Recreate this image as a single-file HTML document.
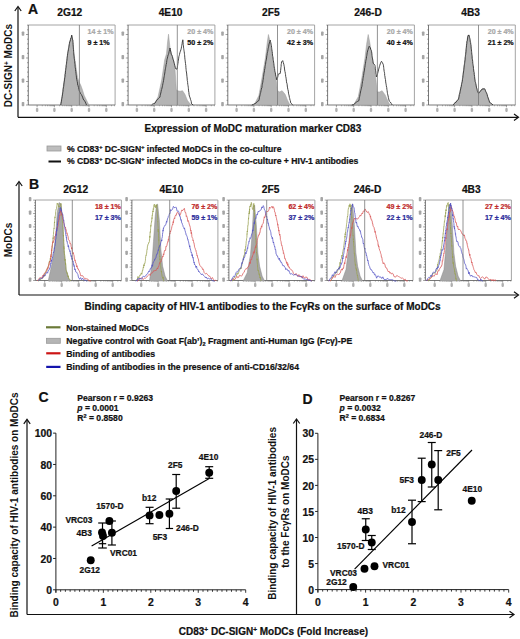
<!DOCTYPE html><html><head><meta charset="utf-8"><style>html,body{margin:0;padding:0;background:#fff;overflow:hidden;}svg{display:block;}text{font-family:"Liberation Sans",sans-serif;}</style></head><body>
<svg width="520" height="639" viewBox="0 0 520 639">
<rect width="520" height="639" fill="#fff"/>
<text x="28" y="14.3" font-size="14" font-weight="bold" text-anchor="start" fill="#111" stroke="#111" stroke-width="0.22" >A</text>
<text x="69.8" y="16.0" font-size="10.2" font-weight="bold" text-anchor="middle" fill="#111" stroke="#111" stroke-width="0.22" >2G12</text>
<text x="170.6" y="16.0" font-size="10.2" font-weight="bold" text-anchor="middle" fill="#111" stroke="#111" stroke-width="0.22" >4E10</text>
<text x="270.8" y="16.0" font-size="10.2" font-weight="bold" text-anchor="middle" fill="#111" stroke="#111" stroke-width="0.22" >2F5</text>
<text x="368" y="16.0" font-size="10.2" font-weight="bold" text-anchor="middle" fill="#111" stroke="#111" stroke-width="0.22" >246-D</text>
<text x="470.6" y="16.0" font-size="10.2" font-weight="bold" text-anchor="middle" fill="#111" stroke="#111" stroke-width="0.22" >4B3</text>
<line x1="18" y1="117.3" x2="18" y2="7.0" stroke="#111" stroke-width="1.2"/>
<polyline points="14.8,11.0 18,6.5 21.2,11.0" fill="none" stroke="#111" stroke-width="1.2"/>
<line x1="18" y1="117.3" x2="518.0" y2="117.3" stroke="#111" stroke-width="1.2"/>
<polyline points="514.0,114.1 518.5,117.3 514.0,120.5" fill="none" stroke="#111" stroke-width="1.2"/>
<text transform="translate(12,65.6) rotate(-90)" x="0" y="0" font-size="10" font-weight="bold" text-anchor="middle" fill="#111">DC-SIGN<tspan font-size="6.5" dy="-3">+</tspan><tspan dy="3"> MoDCs</tspan></text>
<text x="144.5" y="132" font-size="10" font-weight="bold" text-anchor="start" fill="#111" stroke="#111" stroke-width="0.22" >Expression of MoDC maturation marker CD83</text>
<rect x="28.3" y="25" width="86.8" height="80" fill="#fff" stroke="none"/>
<polyline points="28.3,25 115.1,25 115.1,105" fill="none" stroke="#9a9a9a" stroke-width="0.9"/>
<line x1="26.0" y1="105.0" x2="28.3" y2="105.0" stroke="#666" stroke-width="0.6"/>
<rect x="21.7" y="102.0" width="2.6" height="4.2" rx="0.8" fill="#a5a5a5"/>
<line x1="27.0" y1="100.3" x2="28.3" y2="100.3" stroke="#666" stroke-width="0.6"/>
<line x1="27.0" y1="95.6" x2="28.3" y2="95.6" stroke="#666" stroke-width="0.6"/>
<line x1="27.0" y1="90.9" x2="28.3" y2="90.9" stroke="#666" stroke-width="0.6"/>
<line x1="27.0" y1="86.2" x2="28.3" y2="86.2" stroke="#666" stroke-width="0.6"/>
<line x1="26.0" y1="81.5" x2="28.3" y2="81.5" stroke="#666" stroke-width="0.6"/>
<rect x="21.7" y="78.5" width="2.6" height="4.2" rx="0.8" fill="#a5a5a5"/>
<line x1="27.0" y1="76.8" x2="28.3" y2="76.8" stroke="#666" stroke-width="0.6"/>
<line x1="27.0" y1="72.1" x2="28.3" y2="72.1" stroke="#666" stroke-width="0.6"/>
<line x1="27.0" y1="67.4" x2="28.3" y2="67.4" stroke="#666" stroke-width="0.6"/>
<line x1="27.0" y1="62.7" x2="28.3" y2="62.7" stroke="#666" stroke-width="0.6"/>
<line x1="26.0" y1="58.0" x2="28.3" y2="58.0" stroke="#666" stroke-width="0.6"/>
<rect x="21.7" y="55.0" width="2.6" height="4.2" rx="0.8" fill="#a5a5a5"/>
<line x1="27.0" y1="53.3" x2="28.3" y2="53.3" stroke="#666" stroke-width="0.6"/>
<line x1="27.0" y1="48.6" x2="28.3" y2="48.6" stroke="#666" stroke-width="0.6"/>
<line x1="27.0" y1="43.9" x2="28.3" y2="43.9" stroke="#666" stroke-width="0.6"/>
<line x1="27.0" y1="39.2" x2="28.3" y2="39.2" stroke="#666" stroke-width="0.6"/>
<line x1="26.0" y1="34.5" x2="28.3" y2="34.5" stroke="#666" stroke-width="0.6"/>
<rect x="21.7" y="31.5" width="2.6" height="4.2" rx="0.8" fill="#a5a5a5"/>
<line x1="27.0" y1="29.8" x2="28.3" y2="29.8" stroke="#666" stroke-width="0.6"/>
<line x1="27.0" y1="25.1" x2="28.3" y2="25.1" stroke="#666" stroke-width="0.6"/>
<line x1="37.1" y1="105" x2="37.1" y2="107.3" stroke="#666" stroke-width="0.6"/>
<line x1="42.3" y1="105" x2="42.3" y2="106.3" stroke="#777" stroke-width="0.5"/>
<line x1="45.4" y1="105" x2="45.4" y2="106.3" stroke="#777" stroke-width="0.5"/>
<line x1="47.5" y1="105" x2="47.5" y2="106.3" stroke="#777" stroke-width="0.5"/>
<line x1="49.2" y1="105" x2="49.2" y2="106.3" stroke="#777" stroke-width="0.5"/>
<line x1="50.6" y1="105" x2="50.6" y2="106.3" stroke="#777" stroke-width="0.5"/>
<line x1="51.7" y1="105" x2="51.7" y2="106.3" stroke="#777" stroke-width="0.5"/>
<line x1="52.7" y1="105" x2="52.7" y2="106.3" stroke="#777" stroke-width="0.5"/>
<line x1="53.6" y1="105" x2="53.6" y2="106.3" stroke="#777" stroke-width="0.5"/>
<rect x="35.9" y="108.1" width="2.4" height="3.8" rx="0.8" fill="#b0b0b0"/>
<line x1="54.4" y1="105" x2="54.4" y2="107.3" stroke="#666" stroke-width="0.6"/>
<line x1="59.6" y1="105" x2="59.6" y2="106.3" stroke="#777" stroke-width="0.5"/>
<line x1="62.7" y1="105" x2="62.7" y2="106.3" stroke="#777" stroke-width="0.5"/>
<line x1="64.8" y1="105" x2="64.8" y2="106.3" stroke="#777" stroke-width="0.5"/>
<line x1="66.5" y1="105" x2="66.5" y2="106.3" stroke="#777" stroke-width="0.5"/>
<line x1="67.9" y1="105" x2="67.9" y2="106.3" stroke="#777" stroke-width="0.5"/>
<line x1="69.0" y1="105" x2="69.0" y2="106.3" stroke="#777" stroke-width="0.5"/>
<line x1="70.0" y1="105" x2="70.0" y2="106.3" stroke="#777" stroke-width="0.5"/>
<line x1="70.9" y1="105" x2="70.9" y2="106.3" stroke="#777" stroke-width="0.5"/>
<rect x="53.2" y="108.1" width="2.4" height="3.8" rx="0.8" fill="#b0b0b0"/>
<line x1="71.7" y1="105" x2="71.7" y2="107.3" stroke="#666" stroke-width="0.6"/>
<line x1="76.9" y1="105" x2="76.9" y2="106.3" stroke="#777" stroke-width="0.5"/>
<line x1="80.0" y1="105" x2="80.0" y2="106.3" stroke="#777" stroke-width="0.5"/>
<line x1="82.1" y1="105" x2="82.1" y2="106.3" stroke="#777" stroke-width="0.5"/>
<line x1="83.8" y1="105" x2="83.8" y2="106.3" stroke="#777" stroke-width="0.5"/>
<line x1="85.2" y1="105" x2="85.2" y2="106.3" stroke="#777" stroke-width="0.5"/>
<line x1="86.3" y1="105" x2="86.3" y2="106.3" stroke="#777" stroke-width="0.5"/>
<line x1="87.3" y1="105" x2="87.3" y2="106.3" stroke="#777" stroke-width="0.5"/>
<line x1="88.2" y1="105" x2="88.2" y2="106.3" stroke="#777" stroke-width="0.5"/>
<rect x="70.5" y="108.1" width="2.4" height="3.8" rx="0.8" fill="#b0b0b0"/>
<line x1="89.0" y1="105" x2="89.0" y2="107.3" stroke="#666" stroke-width="0.6"/>
<line x1="94.2" y1="105" x2="94.2" y2="106.3" stroke="#777" stroke-width="0.5"/>
<line x1="97.3" y1="105" x2="97.3" y2="106.3" stroke="#777" stroke-width="0.5"/>
<line x1="99.4" y1="105" x2="99.4" y2="106.3" stroke="#777" stroke-width="0.5"/>
<line x1="101.1" y1="105" x2="101.1" y2="106.3" stroke="#777" stroke-width="0.5"/>
<line x1="102.5" y1="105" x2="102.5" y2="106.3" stroke="#777" stroke-width="0.5"/>
<line x1="103.6" y1="105" x2="103.6" y2="106.3" stroke="#777" stroke-width="0.5"/>
<line x1="104.6" y1="105" x2="104.6" y2="106.3" stroke="#777" stroke-width="0.5"/>
<line x1="105.5" y1="105" x2="105.5" y2="106.3" stroke="#777" stroke-width="0.5"/>
<rect x="87.8" y="108.1" width="2.4" height="3.8" rx="0.8" fill="#b0b0b0"/>
<line x1="106.3" y1="105" x2="106.3" y2="107.3" stroke="#666" stroke-width="0.6"/>
<line x1="111.5" y1="105" x2="111.5" y2="106.3" stroke="#777" stroke-width="0.5"/>
<line x1="114.6" y1="105" x2="114.6" y2="106.3" stroke="#777" stroke-width="0.5"/>
<rect x="105.1" y="108.1" width="2.4" height="3.8" rx="0.8" fill="#b0b0b0"/>
<polyline points="28.3,25 28.3,105 115.1,105" fill="none" stroke="#555" stroke-width="0.8"/>
<polygon points="60.4,105.0 62.1,95.5 64.5,77.6 67.5,53.8 69.5,42.0 71.7,35.4 72.8,40.0 74.0,53.8 77.6,77.6 79.0,82.0 80.6,84.8 82.5,90.0 84.2,95.5 88.9,105.0" fill="#b4b4b4" stroke="#9a9a9a" stroke-width="0.5"/>
<polyline points="60.8,105.0 61.0,103.4 61.3,101.9 61.5,101.1 61.7,99.1 61.9,98.3 62.2,96.7 62.4,95.0 62.6,94.1 62.8,92.2 63.0,91.3 63.1,89.5 63.3,88.1 63.5,87.1 63.7,86.3 63.9,84.0 64.1,82.8 64.2,81.9 64.4,80.9 64.6,79.1 64.8,77.5 65.0,76.8 65.1,74.4 65.3,74.1 65.4,72.1 65.6,70.6 65.8,69.2 65.9,68.1 66.1,67.4 66.2,65.3 66.4,64.5 66.6,63.2 66.7,61.6 66.9,60.5 67.1,58.6 67.2,57.2 67.4,56.1 67.5,55.3 67.7,53.7 67.9,52.3 68.1,51.3 68.4,49.8 68.6,48.3 68.8,47.6 69.0,46.2 69.3,44.3 69.5,43.4 69.7,42.0 70.1,41.2 70.5,39.7 70.9,37.9 71.3,37.5 71.7,35.1 72.1,37.1 72.4,39.2 72.8,40.1 72.9,41.8 73.0,42.6 73.1,44.7 73.2,46.1 73.3,47.2 73.4,48.9 73.5,49.6 73.6,51.4 73.7,52.6 73.8,53.9 73.9,55.1 74.1,56.9 74.2,58.3 74.4,59.1 74.5,60.6 74.7,61.2 74.8,63.3 75.0,64.6 75.1,66.3 75.2,67.4 75.4,68.1 75.5,69.5 75.7,71.2 75.8,71.7 76.0,73.6 76.1,74.6 76.3,75.8 76.4,77.1 76.7,79.3 76.9,80.0 77.2,81.5 77.5,83.1 77.7,85.0 78.0,85.5 78.5,87.5 78.9,89.2 79.4,91.2 80.1,92.4 80.7,93.8 81.3,94.4 82.0,95.9 82.6,97.1 83.2,99.0 83.9,100.3 84.5,100.6 85.2,101.9 85.8,103.3 86.5,105.0" fill="none" stroke="#333" stroke-width="0.9"/>
<line x1="79.4" y1="25" x2="79.4" y2="105" stroke="#777" stroke-width="0.8"/>
<text x="87.5" y="34.2" font-size="7.1" font-weight="bold" text-anchor="start" fill="#a8a8a8" stroke="#a8a8a8" stroke-width="0.22" >14 ± 1%</text>
<text x="87.5" y="45.4" font-size="7.1" font-weight="bold" text-anchor="start" fill="#111" stroke="#111" stroke-width="0.22" >9 ± 1%</text>
<rect x="128.1" y="25" width="86.79999999999998" height="80" fill="#fff" stroke="none"/>
<polyline points="128.1,25 214.89999999999998,25 214.89999999999998,105" fill="none" stroke="#9a9a9a" stroke-width="0.9"/>
<line x1="125.8" y1="105.0" x2="128.1" y2="105.0" stroke="#666" stroke-width="0.6"/>
<rect x="121.5" y="102.0" width="2.6" height="4.2" rx="0.8" fill="#a5a5a5"/>
<line x1="126.8" y1="100.3" x2="128.1" y2="100.3" stroke="#666" stroke-width="0.6"/>
<line x1="126.8" y1="95.6" x2="128.1" y2="95.6" stroke="#666" stroke-width="0.6"/>
<line x1="126.8" y1="90.9" x2="128.1" y2="90.9" stroke="#666" stroke-width="0.6"/>
<line x1="126.8" y1="86.2" x2="128.1" y2="86.2" stroke="#666" stroke-width="0.6"/>
<line x1="125.8" y1="81.5" x2="128.1" y2="81.5" stroke="#666" stroke-width="0.6"/>
<rect x="121.5" y="78.5" width="2.6" height="4.2" rx="0.8" fill="#a5a5a5"/>
<line x1="126.8" y1="76.8" x2="128.1" y2="76.8" stroke="#666" stroke-width="0.6"/>
<line x1="126.8" y1="72.1" x2="128.1" y2="72.1" stroke="#666" stroke-width="0.6"/>
<line x1="126.8" y1="67.4" x2="128.1" y2="67.4" stroke="#666" stroke-width="0.6"/>
<line x1="126.8" y1="62.7" x2="128.1" y2="62.7" stroke="#666" stroke-width="0.6"/>
<line x1="125.8" y1="58.0" x2="128.1" y2="58.0" stroke="#666" stroke-width="0.6"/>
<rect x="121.5" y="55.0" width="2.6" height="4.2" rx="0.8" fill="#a5a5a5"/>
<line x1="126.8" y1="53.3" x2="128.1" y2="53.3" stroke="#666" stroke-width="0.6"/>
<line x1="126.8" y1="48.6" x2="128.1" y2="48.6" stroke="#666" stroke-width="0.6"/>
<line x1="126.8" y1="43.9" x2="128.1" y2="43.9" stroke="#666" stroke-width="0.6"/>
<line x1="126.8" y1="39.2" x2="128.1" y2="39.2" stroke="#666" stroke-width="0.6"/>
<line x1="125.8" y1="34.5" x2="128.1" y2="34.5" stroke="#666" stroke-width="0.6"/>
<rect x="121.5" y="31.5" width="2.6" height="4.2" rx="0.8" fill="#a5a5a5"/>
<line x1="126.8" y1="29.8" x2="128.1" y2="29.8" stroke="#666" stroke-width="0.6"/>
<line x1="126.8" y1="25.1" x2="128.1" y2="25.1" stroke="#666" stroke-width="0.6"/>
<line x1="136.9" y1="105" x2="136.9" y2="107.3" stroke="#666" stroke-width="0.6"/>
<line x1="142.1" y1="105" x2="142.1" y2="106.3" stroke="#777" stroke-width="0.5"/>
<line x1="145.2" y1="105" x2="145.2" y2="106.3" stroke="#777" stroke-width="0.5"/>
<line x1="147.3" y1="105" x2="147.3" y2="106.3" stroke="#777" stroke-width="0.5"/>
<line x1="149.0" y1="105" x2="149.0" y2="106.3" stroke="#777" stroke-width="0.5"/>
<line x1="150.4" y1="105" x2="150.4" y2="106.3" stroke="#777" stroke-width="0.5"/>
<line x1="151.5" y1="105" x2="151.5" y2="106.3" stroke="#777" stroke-width="0.5"/>
<line x1="152.5" y1="105" x2="152.5" y2="106.3" stroke="#777" stroke-width="0.5"/>
<line x1="153.4" y1="105" x2="153.4" y2="106.3" stroke="#777" stroke-width="0.5"/>
<rect x="135.7" y="108.1" width="2.4" height="3.8" rx="0.8" fill="#b0b0b0"/>
<line x1="154.2" y1="105" x2="154.2" y2="107.3" stroke="#666" stroke-width="0.6"/>
<line x1="159.4" y1="105" x2="159.4" y2="106.3" stroke="#777" stroke-width="0.5"/>
<line x1="162.5" y1="105" x2="162.5" y2="106.3" stroke="#777" stroke-width="0.5"/>
<line x1="164.6" y1="105" x2="164.6" y2="106.3" stroke="#777" stroke-width="0.5"/>
<line x1="166.3" y1="105" x2="166.3" y2="106.3" stroke="#777" stroke-width="0.5"/>
<line x1="167.7" y1="105" x2="167.7" y2="106.3" stroke="#777" stroke-width="0.5"/>
<line x1="168.8" y1="105" x2="168.8" y2="106.3" stroke="#777" stroke-width="0.5"/>
<line x1="169.8" y1="105" x2="169.8" y2="106.3" stroke="#777" stroke-width="0.5"/>
<line x1="170.7" y1="105" x2="170.7" y2="106.3" stroke="#777" stroke-width="0.5"/>
<rect x="153.0" y="108.1" width="2.4" height="3.8" rx="0.8" fill="#b0b0b0"/>
<line x1="171.5" y1="105" x2="171.5" y2="107.3" stroke="#666" stroke-width="0.6"/>
<line x1="176.7" y1="105" x2="176.7" y2="106.3" stroke="#777" stroke-width="0.5"/>
<line x1="179.8" y1="105" x2="179.8" y2="106.3" stroke="#777" stroke-width="0.5"/>
<line x1="181.9" y1="105" x2="181.9" y2="106.3" stroke="#777" stroke-width="0.5"/>
<line x1="183.6" y1="105" x2="183.6" y2="106.3" stroke="#777" stroke-width="0.5"/>
<line x1="185.0" y1="105" x2="185.0" y2="106.3" stroke="#777" stroke-width="0.5"/>
<line x1="186.1" y1="105" x2="186.1" y2="106.3" stroke="#777" stroke-width="0.5"/>
<line x1="187.1" y1="105" x2="187.1" y2="106.3" stroke="#777" stroke-width="0.5"/>
<line x1="188.0" y1="105" x2="188.0" y2="106.3" stroke="#777" stroke-width="0.5"/>
<rect x="170.3" y="108.1" width="2.4" height="3.8" rx="0.8" fill="#b0b0b0"/>
<line x1="188.8" y1="105" x2="188.8" y2="107.3" stroke="#666" stroke-width="0.6"/>
<line x1="194.0" y1="105" x2="194.0" y2="106.3" stroke="#777" stroke-width="0.5"/>
<line x1="197.1" y1="105" x2="197.1" y2="106.3" stroke="#777" stroke-width="0.5"/>
<line x1="199.2" y1="105" x2="199.2" y2="106.3" stroke="#777" stroke-width="0.5"/>
<line x1="200.9" y1="105" x2="200.9" y2="106.3" stroke="#777" stroke-width="0.5"/>
<line x1="202.3" y1="105" x2="202.3" y2="106.3" stroke="#777" stroke-width="0.5"/>
<line x1="203.4" y1="105" x2="203.4" y2="106.3" stroke="#777" stroke-width="0.5"/>
<line x1="204.4" y1="105" x2="204.4" y2="106.3" stroke="#777" stroke-width="0.5"/>
<line x1="205.3" y1="105" x2="205.3" y2="106.3" stroke="#777" stroke-width="0.5"/>
<rect x="187.6" y="108.1" width="2.4" height="3.8" rx="0.8" fill="#b0b0b0"/>
<line x1="206.1" y1="105" x2="206.1" y2="107.3" stroke="#666" stroke-width="0.6"/>
<line x1="211.3" y1="105" x2="211.3" y2="106.3" stroke="#777" stroke-width="0.5"/>
<line x1="214.4" y1="105" x2="214.4" y2="106.3" stroke="#777" stroke-width="0.5"/>
<rect x="204.9" y="108.1" width="2.4" height="3.8" rx="0.8" fill="#b0b0b0"/>
<polyline points="128.1,25 128.1,105 214.89999999999998,105" fill="none" stroke="#555" stroke-width="0.8"/>
<polygon points="154.0,105.0 158.1,96.7 161.7,80.0 164.7,59.8 166.5,53.8 167.6,41.9 168.5,34.2 170.0,47.9 172.4,57.4 174.8,65.7 176.3,89.5 177.5,90.7 180.1,91.3 182.5,90.7 184.9,94.3 187.3,100.2 190.9,105.0" fill="#b4b4b4" stroke="#9a9a9a" stroke-width="0.5"/>
<polyline points="151.6,105.0 152.7,104.0 153.9,103.6 155.0,103.1 155.8,101.7 156.6,100.3 157.4,99.8 158.3,98.6 159.1,97.8 159.9,97.2 160.2,95.6 160.5,94.1 160.8,93.0 161.1,91.7 161.4,89.7 161.7,89.4 162.0,88.0 162.3,86.8 162.6,85.4 162.9,83.7 163.2,82.4 163.5,80.7 163.7,80.0 163.9,78.0 164.2,76.7 164.4,75.5 164.6,74.1 164.8,73.0 165.0,71.3 165.2,69.9 165.5,68.7 165.7,67.3 165.9,66.3 166.1,64.6 166.3,64.3 166.6,62.6 166.8,60.7 167.0,59.5 167.4,58.2 167.7,56.8 168.1,55.0 168.4,54.5 168.8,53.2 169.2,51.2 169.6,49.8 170.0,48.0 170.3,49.3 170.6,51.0 170.9,52.2 171.2,54.2 171.8,55.0 172.4,56.4 173.0,59.1 173.4,60.1 173.7,61.0 174.1,62.9 174.4,63.7 174.8,65.7 175.4,67.8 176.0,69.1 177.2,68.9 177.4,66.9 177.6,65.6 177.8,63.9 178.0,63.1 178.2,61.3 178.4,60.1 178.7,58.1 178.9,56.5 179.2,55.7 179.5,54.4 179.9,52.7 180.4,51.2 180.9,49.8 181.3,48.2 181.6,46.3 181.8,45.3 182.1,43.8 182.3,42.1 182.6,40.8 182.8,39.8 183.0,41.1 183.1,42.9 183.2,44.5 183.4,45.2 183.5,47.1 183.7,48.5 183.9,49.8 184.0,50.5 184.2,51.8 184.4,53.2 184.5,54.5 184.7,55.9 184.8,57.8 185.0,59.6 185.2,60.9 185.3,61.9 185.5,63.5 185.7,65.1 185.8,65.6 185.9,67.7 186.1,69.4 186.2,70.6 186.4,72.0 186.6,73.0 186.7,74.0 186.9,76.2 187.0,77.0 187.2,79.0 187.3,80.6 187.5,81.2 187.6,82.5 187.8,84.4 188.0,85.5 188.1,86.1 188.3,87.4 188.4,88.7 188.6,90.9 188.8,92.1 188.9,92.6 189.1,94.7 189.4,96.1 189.8,97.0 190.1,97.9 190.5,99.4 190.8,100.2 191.2,101.3 191.5,103.8 193.2,105.0" fill="none" stroke="#333" stroke-width="0.9"/>
<line x1="177.3" y1="25" x2="177.3" y2="105" stroke="#777" stroke-width="0.8"/>
<text x="187.3" y="34.2" font-size="7.1" font-weight="bold" text-anchor="start" fill="#a8a8a8" stroke="#a8a8a8" stroke-width="0.22" >20 ± 4%</text>
<text x="187.3" y="45.4" font-size="7.1" font-weight="bold" text-anchor="start" fill="#111" stroke="#111" stroke-width="0.22" >50 ± 2%</text>
<rect x="227.8" y="25" width="86.80000000000001" height="80" fill="#fff" stroke="none"/>
<polyline points="227.8,25 314.6,25 314.6,105" fill="none" stroke="#9a9a9a" stroke-width="0.9"/>
<line x1="225.5" y1="105.0" x2="227.8" y2="105.0" stroke="#666" stroke-width="0.6"/>
<rect x="221.2" y="102.0" width="2.6" height="4.2" rx="0.8" fill="#a5a5a5"/>
<line x1="226.5" y1="100.3" x2="227.8" y2="100.3" stroke="#666" stroke-width="0.6"/>
<line x1="226.5" y1="95.6" x2="227.8" y2="95.6" stroke="#666" stroke-width="0.6"/>
<line x1="226.5" y1="90.9" x2="227.8" y2="90.9" stroke="#666" stroke-width="0.6"/>
<line x1="226.5" y1="86.2" x2="227.8" y2="86.2" stroke="#666" stroke-width="0.6"/>
<line x1="225.5" y1="81.5" x2="227.8" y2="81.5" stroke="#666" stroke-width="0.6"/>
<rect x="221.2" y="78.5" width="2.6" height="4.2" rx="0.8" fill="#a5a5a5"/>
<line x1="226.5" y1="76.8" x2="227.8" y2="76.8" stroke="#666" stroke-width="0.6"/>
<line x1="226.5" y1="72.1" x2="227.8" y2="72.1" stroke="#666" stroke-width="0.6"/>
<line x1="226.5" y1="67.4" x2="227.8" y2="67.4" stroke="#666" stroke-width="0.6"/>
<line x1="226.5" y1="62.7" x2="227.8" y2="62.7" stroke="#666" stroke-width="0.6"/>
<line x1="225.5" y1="58.0" x2="227.8" y2="58.0" stroke="#666" stroke-width="0.6"/>
<rect x="221.2" y="55.0" width="2.6" height="4.2" rx="0.8" fill="#a5a5a5"/>
<line x1="226.5" y1="53.3" x2="227.8" y2="53.3" stroke="#666" stroke-width="0.6"/>
<line x1="226.5" y1="48.6" x2="227.8" y2="48.6" stroke="#666" stroke-width="0.6"/>
<line x1="226.5" y1="43.9" x2="227.8" y2="43.9" stroke="#666" stroke-width="0.6"/>
<line x1="226.5" y1="39.2" x2="227.8" y2="39.2" stroke="#666" stroke-width="0.6"/>
<line x1="225.5" y1="34.5" x2="227.8" y2="34.5" stroke="#666" stroke-width="0.6"/>
<rect x="221.2" y="31.5" width="2.6" height="4.2" rx="0.8" fill="#a5a5a5"/>
<line x1="226.5" y1="29.8" x2="227.8" y2="29.8" stroke="#666" stroke-width="0.6"/>
<line x1="226.5" y1="25.1" x2="227.8" y2="25.1" stroke="#666" stroke-width="0.6"/>
<line x1="236.6" y1="105" x2="236.6" y2="107.3" stroke="#666" stroke-width="0.6"/>
<line x1="241.8" y1="105" x2="241.8" y2="106.3" stroke="#777" stroke-width="0.5"/>
<line x1="244.9" y1="105" x2="244.9" y2="106.3" stroke="#777" stroke-width="0.5"/>
<line x1="247.0" y1="105" x2="247.0" y2="106.3" stroke="#777" stroke-width="0.5"/>
<line x1="248.7" y1="105" x2="248.7" y2="106.3" stroke="#777" stroke-width="0.5"/>
<line x1="250.1" y1="105" x2="250.1" y2="106.3" stroke="#777" stroke-width="0.5"/>
<line x1="251.2" y1="105" x2="251.2" y2="106.3" stroke="#777" stroke-width="0.5"/>
<line x1="252.2" y1="105" x2="252.2" y2="106.3" stroke="#777" stroke-width="0.5"/>
<line x1="253.1" y1="105" x2="253.1" y2="106.3" stroke="#777" stroke-width="0.5"/>
<rect x="235.4" y="108.1" width="2.4" height="3.8" rx="0.8" fill="#b0b0b0"/>
<line x1="253.9" y1="105" x2="253.9" y2="107.3" stroke="#666" stroke-width="0.6"/>
<line x1="259.1" y1="105" x2="259.1" y2="106.3" stroke="#777" stroke-width="0.5"/>
<line x1="262.2" y1="105" x2="262.2" y2="106.3" stroke="#777" stroke-width="0.5"/>
<line x1="264.3" y1="105" x2="264.3" y2="106.3" stroke="#777" stroke-width="0.5"/>
<line x1="266.0" y1="105" x2="266.0" y2="106.3" stroke="#777" stroke-width="0.5"/>
<line x1="267.4" y1="105" x2="267.4" y2="106.3" stroke="#777" stroke-width="0.5"/>
<line x1="268.5" y1="105" x2="268.5" y2="106.3" stroke="#777" stroke-width="0.5"/>
<line x1="269.5" y1="105" x2="269.5" y2="106.3" stroke="#777" stroke-width="0.5"/>
<line x1="270.4" y1="105" x2="270.4" y2="106.3" stroke="#777" stroke-width="0.5"/>
<rect x="252.7" y="108.1" width="2.4" height="3.8" rx="0.8" fill="#b0b0b0"/>
<line x1="271.2" y1="105" x2="271.2" y2="107.3" stroke="#666" stroke-width="0.6"/>
<line x1="276.4" y1="105" x2="276.4" y2="106.3" stroke="#777" stroke-width="0.5"/>
<line x1="279.5" y1="105" x2="279.5" y2="106.3" stroke="#777" stroke-width="0.5"/>
<line x1="281.6" y1="105" x2="281.6" y2="106.3" stroke="#777" stroke-width="0.5"/>
<line x1="283.3" y1="105" x2="283.3" y2="106.3" stroke="#777" stroke-width="0.5"/>
<line x1="284.7" y1="105" x2="284.7" y2="106.3" stroke="#777" stroke-width="0.5"/>
<line x1="285.8" y1="105" x2="285.8" y2="106.3" stroke="#777" stroke-width="0.5"/>
<line x1="286.8" y1="105" x2="286.8" y2="106.3" stroke="#777" stroke-width="0.5"/>
<line x1="287.7" y1="105" x2="287.7" y2="106.3" stroke="#777" stroke-width="0.5"/>
<rect x="270.0" y="108.1" width="2.4" height="3.8" rx="0.8" fill="#b0b0b0"/>
<line x1="288.5" y1="105" x2="288.5" y2="107.3" stroke="#666" stroke-width="0.6"/>
<line x1="293.7" y1="105" x2="293.7" y2="106.3" stroke="#777" stroke-width="0.5"/>
<line x1="296.8" y1="105" x2="296.8" y2="106.3" stroke="#777" stroke-width="0.5"/>
<line x1="298.9" y1="105" x2="298.9" y2="106.3" stroke="#777" stroke-width="0.5"/>
<line x1="300.6" y1="105" x2="300.6" y2="106.3" stroke="#777" stroke-width="0.5"/>
<line x1="302.0" y1="105" x2="302.0" y2="106.3" stroke="#777" stroke-width="0.5"/>
<line x1="303.1" y1="105" x2="303.1" y2="106.3" stroke="#777" stroke-width="0.5"/>
<line x1="304.1" y1="105" x2="304.1" y2="106.3" stroke="#777" stroke-width="0.5"/>
<line x1="305.0" y1="105" x2="305.0" y2="106.3" stroke="#777" stroke-width="0.5"/>
<rect x="287.3" y="108.1" width="2.4" height="3.8" rx="0.8" fill="#b0b0b0"/>
<line x1="305.8" y1="105" x2="305.8" y2="107.3" stroke="#666" stroke-width="0.6"/>
<line x1="311.0" y1="105" x2="311.0" y2="106.3" stroke="#777" stroke-width="0.5"/>
<line x1="314.1" y1="105" x2="314.1" y2="106.3" stroke="#777" stroke-width="0.5"/>
<rect x="304.6" y="108.1" width="2.4" height="3.8" rx="0.8" fill="#b0b0b0"/>
<polyline points="227.8,25 227.8,105 314.6,105" fill="none" stroke="#555" stroke-width="0.8"/>
<polygon points="254.1,105.0 258.9,95.5 262.5,75.2 265.5,57.4 267.2,43.1 268.4,34.5 270.2,41.9 272.0,53.8 274.1,68.1 276.2,80.0 277.4,90.7 279.7,91.9 282.1,90.7 285.1,94.3 287.5,100.2 289.9,105.0" fill="#b4b4b4" stroke="#9a9a9a" stroke-width="0.5"/>
<polyline points="251.8,105.0 253.4,104.4 255.0,103.5 256.3,102.9 257.6,101.2 258.9,100.6 259.2,99.3 259.5,97.2 259.8,96.0 260.1,94.7 260.4,93.3 260.7,92.4 261.0,90.7 261.3,89.6 261.6,88.0 261.9,87.6 262.1,85.6 262.3,84.3 262.5,83.1 262.8,82.2 263.0,80.2 263.2,79.5 263.4,77.6 263.6,76.3 263.8,74.9 264.0,73.0 264.3,72.1 264.5,70.4 264.7,68.9 264.9,68.5 265.1,66.4 265.3,65.5 265.5,64.5 265.7,63.0 265.9,61.4 266.2,60.3 266.4,59.1 266.6,58.0 266.8,55.9 267.0,55.2 267.2,53.5 267.5,52.2 267.7,51.4 268.0,49.7 268.2,48.4 268.5,47.3 268.7,46.2 269.0,44.2 269.4,43.0 269.8,41.5 270.2,40.1 270.5,41.7 270.8,42.7 271.1,44.2 271.4,45.5 271.6,47.3 271.7,48.3 271.9,49.9 272.1,51.2 272.2,51.7 272.4,53.4 272.5,55.1 272.7,56.3 272.9,56.8 273.0,58.0 273.2,59.7 273.4,60.6 273.6,62.1 273.8,63.3 274.0,65.3 274.2,66.8 274.4,68.2 274.6,68.6 274.8,70.6 275.0,71.9 275.3,72.7 275.6,74.9 275.9,76.4 276.2,76.9 276.5,79.2 276.8,79.9 277.1,78.6 277.5,77.9 277.9,76.3 278.2,74.2 280.3,73.4 280.4,72.1 280.6,70.5 280.8,68.9 280.9,67.6 281.1,66.6 281.2,64.4 281.4,63.6 281.5,62.0 282.7,60.6 283.3,62.6 283.9,64.6 284.1,65.8 284.3,66.6 284.5,69.0 284.7,70.0 284.9,71.5 285.1,71.8 285.3,73.3 285.5,74.3 285.7,76.5 285.9,77.1 286.1,78.3 286.3,79.9 286.5,81.8 286.7,83.0 287.0,83.6 287.2,84.8 287.4,87.0 287.6,87.9 287.8,89.3 288.0,89.9 288.3,91.2 288.5,93.2 288.7,94.2 289.0,95.1 289.4,97.5 289.7,98.5 290.0,100.1 290.3,100.6 290.7,102.9 291.0,103.3 292.8,105.0" fill="none" stroke="#333" stroke-width="0.9"/>
<line x1="277.5" y1="25" x2="277.5" y2="105" stroke="#777" stroke-width="0.8"/>
<text x="287.0" y="34.2" font-size="7.1" font-weight="bold" text-anchor="start" fill="#a8a8a8" stroke="#a8a8a8" stroke-width="0.22" >20 ± 4%</text>
<text x="287.0" y="45.4" font-size="7.1" font-weight="bold" text-anchor="start" fill="#111" stroke="#111" stroke-width="0.22" >42 ± 3%</text>
<rect x="327.6" y="25" width="86.80000000000001" height="80" fill="#fff" stroke="none"/>
<polyline points="327.6,25 414.40000000000003,25 414.40000000000003,105" fill="none" stroke="#9a9a9a" stroke-width="0.9"/>
<line x1="325.3" y1="105.0" x2="327.6" y2="105.0" stroke="#666" stroke-width="0.6"/>
<rect x="321.0" y="102.0" width="2.6" height="4.2" rx="0.8" fill="#a5a5a5"/>
<line x1="326.3" y1="100.3" x2="327.6" y2="100.3" stroke="#666" stroke-width="0.6"/>
<line x1="326.3" y1="95.6" x2="327.6" y2="95.6" stroke="#666" stroke-width="0.6"/>
<line x1="326.3" y1="90.9" x2="327.6" y2="90.9" stroke="#666" stroke-width="0.6"/>
<line x1="326.3" y1="86.2" x2="327.6" y2="86.2" stroke="#666" stroke-width="0.6"/>
<line x1="325.3" y1="81.5" x2="327.6" y2="81.5" stroke="#666" stroke-width="0.6"/>
<rect x="321.0" y="78.5" width="2.6" height="4.2" rx="0.8" fill="#a5a5a5"/>
<line x1="326.3" y1="76.8" x2="327.6" y2="76.8" stroke="#666" stroke-width="0.6"/>
<line x1="326.3" y1="72.1" x2="327.6" y2="72.1" stroke="#666" stroke-width="0.6"/>
<line x1="326.3" y1="67.4" x2="327.6" y2="67.4" stroke="#666" stroke-width="0.6"/>
<line x1="326.3" y1="62.7" x2="327.6" y2="62.7" stroke="#666" stroke-width="0.6"/>
<line x1="325.3" y1="58.0" x2="327.6" y2="58.0" stroke="#666" stroke-width="0.6"/>
<rect x="321.0" y="55.0" width="2.6" height="4.2" rx="0.8" fill="#a5a5a5"/>
<line x1="326.3" y1="53.3" x2="327.6" y2="53.3" stroke="#666" stroke-width="0.6"/>
<line x1="326.3" y1="48.6" x2="327.6" y2="48.6" stroke="#666" stroke-width="0.6"/>
<line x1="326.3" y1="43.9" x2="327.6" y2="43.9" stroke="#666" stroke-width="0.6"/>
<line x1="326.3" y1="39.2" x2="327.6" y2="39.2" stroke="#666" stroke-width="0.6"/>
<line x1="325.3" y1="34.5" x2="327.6" y2="34.5" stroke="#666" stroke-width="0.6"/>
<rect x="321.0" y="31.5" width="2.6" height="4.2" rx="0.8" fill="#a5a5a5"/>
<line x1="326.3" y1="29.8" x2="327.6" y2="29.8" stroke="#666" stroke-width="0.6"/>
<line x1="326.3" y1="25.1" x2="327.6" y2="25.1" stroke="#666" stroke-width="0.6"/>
<line x1="336.4" y1="105" x2="336.4" y2="107.3" stroke="#666" stroke-width="0.6"/>
<line x1="341.6" y1="105" x2="341.6" y2="106.3" stroke="#777" stroke-width="0.5"/>
<line x1="344.7" y1="105" x2="344.7" y2="106.3" stroke="#777" stroke-width="0.5"/>
<line x1="346.8" y1="105" x2="346.8" y2="106.3" stroke="#777" stroke-width="0.5"/>
<line x1="348.5" y1="105" x2="348.5" y2="106.3" stroke="#777" stroke-width="0.5"/>
<line x1="349.9" y1="105" x2="349.9" y2="106.3" stroke="#777" stroke-width="0.5"/>
<line x1="351.0" y1="105" x2="351.0" y2="106.3" stroke="#777" stroke-width="0.5"/>
<line x1="352.0" y1="105" x2="352.0" y2="106.3" stroke="#777" stroke-width="0.5"/>
<line x1="352.9" y1="105" x2="352.9" y2="106.3" stroke="#777" stroke-width="0.5"/>
<rect x="335.2" y="108.1" width="2.4" height="3.8" rx="0.8" fill="#b0b0b0"/>
<line x1="353.7" y1="105" x2="353.7" y2="107.3" stroke="#666" stroke-width="0.6"/>
<line x1="358.9" y1="105" x2="358.9" y2="106.3" stroke="#777" stroke-width="0.5"/>
<line x1="362.0" y1="105" x2="362.0" y2="106.3" stroke="#777" stroke-width="0.5"/>
<line x1="364.1" y1="105" x2="364.1" y2="106.3" stroke="#777" stroke-width="0.5"/>
<line x1="365.8" y1="105" x2="365.8" y2="106.3" stroke="#777" stroke-width="0.5"/>
<line x1="367.2" y1="105" x2="367.2" y2="106.3" stroke="#777" stroke-width="0.5"/>
<line x1="368.3" y1="105" x2="368.3" y2="106.3" stroke="#777" stroke-width="0.5"/>
<line x1="369.3" y1="105" x2="369.3" y2="106.3" stroke="#777" stroke-width="0.5"/>
<line x1="370.2" y1="105" x2="370.2" y2="106.3" stroke="#777" stroke-width="0.5"/>
<rect x="352.5" y="108.1" width="2.4" height="3.8" rx="0.8" fill="#b0b0b0"/>
<line x1="371.0" y1="105" x2="371.0" y2="107.3" stroke="#666" stroke-width="0.6"/>
<line x1="376.2" y1="105" x2="376.2" y2="106.3" stroke="#777" stroke-width="0.5"/>
<line x1="379.3" y1="105" x2="379.3" y2="106.3" stroke="#777" stroke-width="0.5"/>
<line x1="381.4" y1="105" x2="381.4" y2="106.3" stroke="#777" stroke-width="0.5"/>
<line x1="383.1" y1="105" x2="383.1" y2="106.3" stroke="#777" stroke-width="0.5"/>
<line x1="384.5" y1="105" x2="384.5" y2="106.3" stroke="#777" stroke-width="0.5"/>
<line x1="385.6" y1="105" x2="385.6" y2="106.3" stroke="#777" stroke-width="0.5"/>
<line x1="386.6" y1="105" x2="386.6" y2="106.3" stroke="#777" stroke-width="0.5"/>
<line x1="387.5" y1="105" x2="387.5" y2="106.3" stroke="#777" stroke-width="0.5"/>
<rect x="369.8" y="108.1" width="2.4" height="3.8" rx="0.8" fill="#b0b0b0"/>
<line x1="388.3" y1="105" x2="388.3" y2="107.3" stroke="#666" stroke-width="0.6"/>
<line x1="393.5" y1="105" x2="393.5" y2="106.3" stroke="#777" stroke-width="0.5"/>
<line x1="396.6" y1="105" x2="396.6" y2="106.3" stroke="#777" stroke-width="0.5"/>
<line x1="398.7" y1="105" x2="398.7" y2="106.3" stroke="#777" stroke-width="0.5"/>
<line x1="400.4" y1="105" x2="400.4" y2="106.3" stroke="#777" stroke-width="0.5"/>
<line x1="401.8" y1="105" x2="401.8" y2="106.3" stroke="#777" stroke-width="0.5"/>
<line x1="402.9" y1="105" x2="402.9" y2="106.3" stroke="#777" stroke-width="0.5"/>
<line x1="403.9" y1="105" x2="403.9" y2="106.3" stroke="#777" stroke-width="0.5"/>
<line x1="404.8" y1="105" x2="404.8" y2="106.3" stroke="#777" stroke-width="0.5"/>
<rect x="387.1" y="108.1" width="2.4" height="3.8" rx="0.8" fill="#b0b0b0"/>
<line x1="405.6" y1="105" x2="405.6" y2="107.3" stroke="#666" stroke-width="0.6"/>
<line x1="410.8" y1="105" x2="410.8" y2="106.3" stroke="#777" stroke-width="0.5"/>
<line x1="413.9" y1="105" x2="413.9" y2="106.3" stroke="#777" stroke-width="0.5"/>
<rect x="404.4" y="108.1" width="2.4" height="3.8" rx="0.8" fill="#b0b0b0"/>
<polyline points="327.6,25 327.6,105 414.40000000000003,105" fill="none" stroke="#555" stroke-width="0.8"/>
<polygon points="353.5,105.0 358.3,96.7 361.9,77.6 364.9,58.6 366.6,44.3 368.2,34.5 369.9,43.1 372.0,57.4 374.4,68.1 376.2,82.4 377.0,91.9 379.7,91.9 382.1,90.7 385.1,94.9 387.5,100.2 389.9,105.0" fill="#b4b4b4" stroke="#9a9a9a" stroke-width="0.5"/>
<polyline points="351.8,105.0 353.4,104.7 355.0,103.4 356.3,102.2 357.6,101.4 358.9,100.7 359.2,98.6 359.4,97.2 359.7,96.4 360.0,94.7 360.3,93.3 360.5,92.0 360.8,90.6 361.1,89.5 361.4,88.4 361.6,87.1 361.9,86.3 362.1,84.4 362.3,83.3 362.5,81.5 362.8,80.4 363.0,78.6 363.2,77.5 363.4,75.9 363.6,75.4 363.8,73.8 364.0,72.0 364.3,71.0 364.5,70.2 364.7,67.8 364.9,67.3 365.1,65.5 365.3,64.3 365.5,63.4 365.7,61.6 365.9,60.4 366.2,59.3 366.4,58.4 366.6,56.3 366.8,55.6 367.0,54.1 367.2,52.8 367.6,51.0 368.1,49.5 368.6,47.6 369.0,46.3 370.2,47.4 370.8,49.6 371.4,50.5 371.6,51.8 371.8,53.1 372.0,55.4 372.2,56.8 372.4,57.9 372.6,58.9 372.8,60.2 373.0,61.7 373.2,63.3 374.1,64.1 375.0,65.6 375.2,66.7 375.3,68.9 375.5,70.2 375.7,71.0 375.8,72.0 376.0,74.2 376.2,74.7 376.3,76.1 376.5,77.0 376.9,76.1 377.2,74.9 377.6,73.6 378.0,71.9 378.3,71.0 378.7,69.1 379.0,68.1 379.4,66.5 379.7,65.6 380.3,63.8 380.9,62.3 381.5,61.3 382.4,62.7 383.3,64.6 383.5,65.8 383.7,67.4 383.8,68.6 384.0,70.0 384.2,71.5 384.4,72.2 384.6,73.5 384.7,75.6 384.9,75.9 385.1,77.9 385.3,79.1 385.5,79.6 385.7,81.9 385.9,83.2 386.1,84.2 386.3,85.6 386.5,87.0 386.7,87.5 386.9,89.3 387.1,90.5 387.3,92.2 387.5,93.5 387.8,94.9 388.1,96.0 388.4,97.7 388.7,98.9 389.0,100.2 389.3,101.1 390.3,102.0 391.2,103.4 392.2,105.0" fill="none" stroke="#333" stroke-width="0.9"/>
<line x1="377.4" y1="25" x2="377.4" y2="105" stroke="#777" stroke-width="0.8"/>
<text x="386.8" y="34.2" font-size="7.1" font-weight="bold" text-anchor="start" fill="#a8a8a8" stroke="#a8a8a8" stroke-width="0.22" >20 ± 4%</text>
<text x="386.8" y="45.4" font-size="7.1" font-weight="bold" text-anchor="start" fill="#111" stroke="#111" stroke-width="0.22" >40 ± 4%</text>
<rect x="428.5" y="25" width="86.79999999999995" height="80" fill="#fff" stroke="none"/>
<polyline points="428.5,25 515.3,25 515.3,105" fill="none" stroke="#9a9a9a" stroke-width="0.9"/>
<line x1="426.2" y1="105.0" x2="428.5" y2="105.0" stroke="#666" stroke-width="0.6"/>
<rect x="421.9" y="102.0" width="2.6" height="4.2" rx="0.8" fill="#a5a5a5"/>
<line x1="427.2" y1="100.3" x2="428.5" y2="100.3" stroke="#666" stroke-width="0.6"/>
<line x1="427.2" y1="95.6" x2="428.5" y2="95.6" stroke="#666" stroke-width="0.6"/>
<line x1="427.2" y1="90.9" x2="428.5" y2="90.9" stroke="#666" stroke-width="0.6"/>
<line x1="427.2" y1="86.2" x2="428.5" y2="86.2" stroke="#666" stroke-width="0.6"/>
<line x1="426.2" y1="81.5" x2="428.5" y2="81.5" stroke="#666" stroke-width="0.6"/>
<rect x="421.9" y="78.5" width="2.6" height="4.2" rx="0.8" fill="#a5a5a5"/>
<line x1="427.2" y1="76.8" x2="428.5" y2="76.8" stroke="#666" stroke-width="0.6"/>
<line x1="427.2" y1="72.1" x2="428.5" y2="72.1" stroke="#666" stroke-width="0.6"/>
<line x1="427.2" y1="67.4" x2="428.5" y2="67.4" stroke="#666" stroke-width="0.6"/>
<line x1="427.2" y1="62.7" x2="428.5" y2="62.7" stroke="#666" stroke-width="0.6"/>
<line x1="426.2" y1="58.0" x2="428.5" y2="58.0" stroke="#666" stroke-width="0.6"/>
<rect x="421.9" y="55.0" width="2.6" height="4.2" rx="0.8" fill="#a5a5a5"/>
<line x1="427.2" y1="53.3" x2="428.5" y2="53.3" stroke="#666" stroke-width="0.6"/>
<line x1="427.2" y1="48.6" x2="428.5" y2="48.6" stroke="#666" stroke-width="0.6"/>
<line x1="427.2" y1="43.9" x2="428.5" y2="43.9" stroke="#666" stroke-width="0.6"/>
<line x1="427.2" y1="39.2" x2="428.5" y2="39.2" stroke="#666" stroke-width="0.6"/>
<line x1="426.2" y1="34.5" x2="428.5" y2="34.5" stroke="#666" stroke-width="0.6"/>
<rect x="421.9" y="31.5" width="2.6" height="4.2" rx="0.8" fill="#a5a5a5"/>
<line x1="427.2" y1="29.8" x2="428.5" y2="29.8" stroke="#666" stroke-width="0.6"/>
<line x1="427.2" y1="25.1" x2="428.5" y2="25.1" stroke="#666" stroke-width="0.6"/>
<line x1="437.3" y1="105" x2="437.3" y2="107.3" stroke="#666" stroke-width="0.6"/>
<line x1="442.5" y1="105" x2="442.5" y2="106.3" stroke="#777" stroke-width="0.5"/>
<line x1="445.6" y1="105" x2="445.6" y2="106.3" stroke="#777" stroke-width="0.5"/>
<line x1="447.7" y1="105" x2="447.7" y2="106.3" stroke="#777" stroke-width="0.5"/>
<line x1="449.4" y1="105" x2="449.4" y2="106.3" stroke="#777" stroke-width="0.5"/>
<line x1="450.8" y1="105" x2="450.8" y2="106.3" stroke="#777" stroke-width="0.5"/>
<line x1="451.9" y1="105" x2="451.9" y2="106.3" stroke="#777" stroke-width="0.5"/>
<line x1="452.9" y1="105" x2="452.9" y2="106.3" stroke="#777" stroke-width="0.5"/>
<line x1="453.8" y1="105" x2="453.8" y2="106.3" stroke="#777" stroke-width="0.5"/>
<rect x="436.1" y="108.1" width="2.4" height="3.8" rx="0.8" fill="#b0b0b0"/>
<line x1="454.6" y1="105" x2="454.6" y2="107.3" stroke="#666" stroke-width="0.6"/>
<line x1="459.8" y1="105" x2="459.8" y2="106.3" stroke="#777" stroke-width="0.5"/>
<line x1="462.9" y1="105" x2="462.9" y2="106.3" stroke="#777" stroke-width="0.5"/>
<line x1="465.0" y1="105" x2="465.0" y2="106.3" stroke="#777" stroke-width="0.5"/>
<line x1="466.7" y1="105" x2="466.7" y2="106.3" stroke="#777" stroke-width="0.5"/>
<line x1="468.1" y1="105" x2="468.1" y2="106.3" stroke="#777" stroke-width="0.5"/>
<line x1="469.2" y1="105" x2="469.2" y2="106.3" stroke="#777" stroke-width="0.5"/>
<line x1="470.2" y1="105" x2="470.2" y2="106.3" stroke="#777" stroke-width="0.5"/>
<line x1="471.1" y1="105" x2="471.1" y2="106.3" stroke="#777" stroke-width="0.5"/>
<rect x="453.4" y="108.1" width="2.4" height="3.8" rx="0.8" fill="#b0b0b0"/>
<line x1="471.9" y1="105" x2="471.9" y2="107.3" stroke="#666" stroke-width="0.6"/>
<line x1="477.1" y1="105" x2="477.1" y2="106.3" stroke="#777" stroke-width="0.5"/>
<line x1="480.2" y1="105" x2="480.2" y2="106.3" stroke="#777" stroke-width="0.5"/>
<line x1="482.3" y1="105" x2="482.3" y2="106.3" stroke="#777" stroke-width="0.5"/>
<line x1="484.0" y1="105" x2="484.0" y2="106.3" stroke="#777" stroke-width="0.5"/>
<line x1="485.4" y1="105" x2="485.4" y2="106.3" stroke="#777" stroke-width="0.5"/>
<line x1="486.5" y1="105" x2="486.5" y2="106.3" stroke="#777" stroke-width="0.5"/>
<line x1="487.5" y1="105" x2="487.5" y2="106.3" stroke="#777" stroke-width="0.5"/>
<line x1="488.4" y1="105" x2="488.4" y2="106.3" stroke="#777" stroke-width="0.5"/>
<rect x="470.7" y="108.1" width="2.4" height="3.8" rx="0.8" fill="#b0b0b0"/>
<line x1="489.2" y1="105" x2="489.2" y2="107.3" stroke="#666" stroke-width="0.6"/>
<line x1="494.4" y1="105" x2="494.4" y2="106.3" stroke="#777" stroke-width="0.5"/>
<line x1="497.5" y1="105" x2="497.5" y2="106.3" stroke="#777" stroke-width="0.5"/>
<line x1="499.6" y1="105" x2="499.6" y2="106.3" stroke="#777" stroke-width="0.5"/>
<line x1="501.3" y1="105" x2="501.3" y2="106.3" stroke="#777" stroke-width="0.5"/>
<line x1="502.7" y1="105" x2="502.7" y2="106.3" stroke="#777" stroke-width="0.5"/>
<line x1="503.8" y1="105" x2="503.8" y2="106.3" stroke="#777" stroke-width="0.5"/>
<line x1="504.8" y1="105" x2="504.8" y2="106.3" stroke="#777" stroke-width="0.5"/>
<line x1="505.7" y1="105" x2="505.7" y2="106.3" stroke="#777" stroke-width="0.5"/>
<rect x="488.0" y="108.1" width="2.4" height="3.8" rx="0.8" fill="#b0b0b0"/>
<line x1="506.5" y1="105" x2="506.5" y2="107.3" stroke="#666" stroke-width="0.6"/>
<line x1="511.7" y1="105" x2="511.7" y2="106.3" stroke="#777" stroke-width="0.5"/>
<line x1="514.8" y1="105" x2="514.8" y2="106.3" stroke="#777" stroke-width="0.5"/>
<rect x="505.3" y="108.1" width="2.4" height="3.8" rx="0.8" fill="#b0b0b0"/>
<polyline points="428.5,25 428.5,105 515.3,105" fill="none" stroke="#555" stroke-width="0.8"/>
<polygon points="453.0,105.0 458.3,99.0 461.9,82.4 464.9,59.8 466.6,43.1 467.8,35.4 469.0,34.8 470.8,45.5 472.6,63.3 475.0,81.2 477.4,91.9 478.5,93.7 480.3,90.7 482.7,88.3 484.5,88.9 486.9,94.3 489.3,101.4 492.8,105.0" fill="#b4b4b4" stroke="#9a9a9a" stroke-width="0.5"/>
<polyline points="453.3,105.0 454.2,103.8 455.0,102.5 455.9,102.4 456.8,101.1 457.6,100.2 458.5,99.2 458.8,97.9 459.1,96.4 459.3,94.6 459.6,94.2 459.9,92.9 460.2,91.3 460.4,90.1 460.7,89.0 461.0,87.0 461.3,86.5 461.5,84.7 461.8,83.2 462.1,82.1 462.3,81.3 462.5,79.4 462.6,78.7 462.8,77.7 463.0,75.7 463.2,74.3 463.3,73.1 463.5,72.0 463.7,70.8 463.9,69.2 464.0,67.9 464.2,65.9 464.4,64.7 464.6,63.5 464.7,62.8 464.9,60.9 465.1,59.9 465.2,57.8 465.4,56.5 465.5,55.3 465.7,54.4 465.8,53.1 466.0,51.7 466.1,49.8 466.2,48.7 466.4,47.2 466.5,45.8 466.7,44.0 466.8,43.6 467.0,41.2 467.3,40.7 467.5,39.1 467.8,36.5 468.0,35.6 469.2,35.4 469.4,36.9 469.6,37.6 469.9,38.7 470.1,39.9 470.3,42.1 470.6,42.5 470.8,44.3 471.0,45.1 471.1,46.9 471.3,48.8 471.4,49.2 471.6,51.4 471.7,52.4 471.8,54.2 472.0,55.3 472.1,56.1 472.2,58.3 472.4,59.2 472.5,60.0 472.7,61.3 472.8,63.3 473.0,64.6 473.2,65.8 473.4,67.0 473.5,68.6 473.7,70.0 473.9,72.0 474.1,72.3 474.3,74.6 474.5,76.1 474.6,76.6 474.8,79.0 475.0,80.1 475.2,81.7 475.5,82.3 475.8,83.7 476.1,85.1 476.4,87.1 476.7,88.0 477.0,89.1 477.3,90.5 477.6,91.6 478.6,93.4 479.6,91.9 480.5,91.3 481.7,89.4 482.9,89.0 484.7,88.8 485.3,90.2 485.9,91.8 486.5,92.8 487.1,94.3 487.6,96.5 488.1,97.8 488.5,99.1 489.0,100.3 489.5,102.1 490.7,103.3 491.8,103.9 493.0,105.0" fill="none" stroke="#333" stroke-width="0.9"/>
<line x1="478.5" y1="25" x2="478.5" y2="105" stroke="#777" stroke-width="0.8"/>
<text x="487.7" y="34.2" font-size="7.1" font-weight="bold" text-anchor="start" fill="#a8a8a8" stroke="#a8a8a8" stroke-width="0.22" >20 ± 4%</text>
<text x="487.7" y="45.4" font-size="7.1" font-weight="bold" text-anchor="start" fill="#111" stroke="#111" stroke-width="0.22" >21 ± 2%</text>
<rect x="47" y="146" width="14" height="5" fill="#bdbdbd" stroke="#9a9a9a" stroke-width="0.8"/>
<line x1="48.5" y1="161.5" x2="61" y2="161.5" stroke="#111" stroke-width="2"/>
<text x="67" y="152.3" font-size="8.65" font-weight="bold" text-anchor="start" fill="#111" stroke="#111" stroke-width="0.22" >% CD83<tspan font-size="5.5" dy="-3">+</tspan><tspan dy="3"> DC-SIGN</tspan><tspan font-size="5.5" dy="-3">+</tspan><tspan dy="3"> infected MoDCs in the co-culture</tspan></text>
<text x="67" y="164.3" font-size="8.65" font-weight="bold" text-anchor="start" fill="#111" stroke="#111" stroke-width="0.22" >% CD83<tspan font-size="5.5" dy="-3">+</tspan><tspan dy="3"> DC-SIGN</tspan><tspan font-size="5.5" dy="-3">+</tspan><tspan dy="3"> infected MoDCs in the co-culture + HIV-1 antibodies</tspan></text>
<text x="28.9" y="188.9" font-size="14" font-weight="bold" text-anchor="start" fill="#111" stroke="#111" stroke-width="0.22" >B</text>
<text x="75.6" y="192.8" font-size="10.2" font-weight="bold" text-anchor="middle" fill="#111" stroke="#111" stroke-width="0.22" >2G12</text>
<text x="171.5" y="192.8" font-size="10.2" font-weight="bold" text-anchor="middle" fill="#111" stroke="#111" stroke-width="0.22" >4E10</text>
<text x="270.6" y="192.8" font-size="10.2" font-weight="bold" text-anchor="middle" fill="#111" stroke="#111" stroke-width="0.22" >2F5</text>
<text x="367.5" y="192.8" font-size="10.2" font-weight="bold" text-anchor="middle" fill="#111" stroke="#111" stroke-width="0.22" >246-D</text>
<text x="471.3" y="192.8" font-size="10.2" font-weight="bold" text-anchor="middle" fill="#111" stroke="#111" stroke-width="0.22" >4B3</text>
<line x1="19" y1="295" x2="19" y2="182.0" stroke="#111" stroke-width="1.2"/>
<polyline points="15.8,186.0 19,181.5 22.2,186.0" fill="none" stroke="#111" stroke-width="1.2"/>
<line x1="19" y1="295" x2="518.0" y2="295" stroke="#111" stroke-width="1.2"/>
<polyline points="514.0,291.8 518.5,295 514.0,298.2" fill="none" stroke="#111" stroke-width="1.2"/>
<text transform="translate(12.2,240) rotate(-90)" x="0" y="0" font-size="10" font-weight="bold" text-anchor="middle" fill="#111">MoDCs</text>
<text x="84.5" y="310" font-size="10" font-weight="bold" text-anchor="start" fill="#111" stroke="#111" stroke-width="0.22" >Binding capacity of HIV-1 antibodies to the Fc&#947;Rs on the surface of MoDCs</text>
<rect x="35.4" y="200" width="86.0" height="80.5" fill="#fff" stroke="none"/>
<polyline points="35.4,200 121.4,200 121.4,280.5" fill="none" stroke="#9a9a9a" stroke-width="0.9"/>
<line x1="33.1" y1="280.5" x2="35.4" y2="280.5" stroke="#666" stroke-width="0.6"/>
<rect x="28.8" y="277.5" width="2.6" height="4.2" rx="0.8" fill="#a5a5a5"/>
<line x1="34.1" y1="277.8" x2="35.4" y2="277.8" stroke="#666" stroke-width="0.6"/>
<line x1="34.1" y1="275.1" x2="35.4" y2="275.1" stroke="#666" stroke-width="0.6"/>
<line x1="34.1" y1="272.5" x2="35.4" y2="272.5" stroke="#666" stroke-width="0.6"/>
<line x1="34.1" y1="269.8" x2="35.4" y2="269.8" stroke="#666" stroke-width="0.6"/>
<line x1="33.1" y1="267.1" x2="35.4" y2="267.1" stroke="#666" stroke-width="0.6"/>
<rect x="28.8" y="264.1" width="2.6" height="4.2" rx="0.8" fill="#a5a5a5"/>
<line x1="34.1" y1="264.4" x2="35.4" y2="264.4" stroke="#666" stroke-width="0.6"/>
<line x1="34.1" y1="261.7" x2="35.4" y2="261.7" stroke="#666" stroke-width="0.6"/>
<line x1="34.1" y1="259.1" x2="35.4" y2="259.1" stroke="#666" stroke-width="0.6"/>
<line x1="34.1" y1="256.4" x2="35.4" y2="256.4" stroke="#666" stroke-width="0.6"/>
<line x1="33.1" y1="253.7" x2="35.4" y2="253.7" stroke="#666" stroke-width="0.6"/>
<rect x="28.8" y="250.7" width="2.6" height="4.2" rx="0.8" fill="#a5a5a5"/>
<line x1="34.1" y1="251.0" x2="35.4" y2="251.0" stroke="#666" stroke-width="0.6"/>
<line x1="34.1" y1="248.3" x2="35.4" y2="248.3" stroke="#666" stroke-width="0.6"/>
<line x1="34.1" y1="245.7" x2="35.4" y2="245.7" stroke="#666" stroke-width="0.6"/>
<line x1="34.1" y1="243.0" x2="35.4" y2="243.0" stroke="#666" stroke-width="0.6"/>
<line x1="33.1" y1="240.3" x2="35.4" y2="240.3" stroke="#666" stroke-width="0.6"/>
<rect x="28.8" y="237.3" width="2.6" height="4.2" rx="0.8" fill="#a5a5a5"/>
<line x1="34.1" y1="237.6" x2="35.4" y2="237.6" stroke="#666" stroke-width="0.6"/>
<line x1="34.1" y1="234.9" x2="35.4" y2="234.9" stroke="#666" stroke-width="0.6"/>
<line x1="34.1" y1="232.3" x2="35.4" y2="232.3" stroke="#666" stroke-width="0.6"/>
<line x1="34.1" y1="229.6" x2="35.4" y2="229.6" stroke="#666" stroke-width="0.6"/>
<line x1="33.1" y1="226.9" x2="35.4" y2="226.9" stroke="#666" stroke-width="0.6"/>
<rect x="28.8" y="223.9" width="2.6" height="4.2" rx="0.8" fill="#a5a5a5"/>
<line x1="34.1" y1="224.2" x2="35.4" y2="224.2" stroke="#666" stroke-width="0.6"/>
<line x1="34.1" y1="221.5" x2="35.4" y2="221.5" stroke="#666" stroke-width="0.6"/>
<line x1="34.1" y1="218.9" x2="35.4" y2="218.9" stroke="#666" stroke-width="0.6"/>
<line x1="34.1" y1="216.2" x2="35.4" y2="216.2" stroke="#666" stroke-width="0.6"/>
<line x1="33.1" y1="213.5" x2="35.4" y2="213.5" stroke="#666" stroke-width="0.6"/>
<rect x="28.8" y="210.5" width="2.6" height="4.2" rx="0.8" fill="#a5a5a5"/>
<line x1="34.1" y1="210.8" x2="35.4" y2="210.8" stroke="#666" stroke-width="0.6"/>
<line x1="34.1" y1="208.1" x2="35.4" y2="208.1" stroke="#666" stroke-width="0.6"/>
<line x1="34.1" y1="205.5" x2="35.4" y2="205.5" stroke="#666" stroke-width="0.6"/>
<line x1="34.1" y1="202.8" x2="35.4" y2="202.8" stroke="#666" stroke-width="0.6"/>
<line x1="33.1" y1="200.1" x2="35.4" y2="200.1" stroke="#666" stroke-width="0.6"/>
<rect x="28.8" y="197.1" width="2.6" height="4.2" rx="0.8" fill="#a5a5a5"/>
<line x1="44.7" y1="280.5" x2="44.7" y2="282.8" stroke="#666" stroke-width="0.6"/>
<line x1="49.8" y1="280.5" x2="49.8" y2="281.8" stroke="#777" stroke-width="0.5"/>
<line x1="52.8" y1="280.5" x2="52.8" y2="281.8" stroke="#777" stroke-width="0.5"/>
<line x1="54.9" y1="280.5" x2="54.9" y2="281.8" stroke="#777" stroke-width="0.5"/>
<line x1="56.6" y1="280.5" x2="56.6" y2="281.8" stroke="#777" stroke-width="0.5"/>
<line x1="57.9" y1="280.5" x2="57.9" y2="281.8" stroke="#777" stroke-width="0.5"/>
<line x1="59.1" y1="280.5" x2="59.1" y2="281.8" stroke="#777" stroke-width="0.5"/>
<line x1="60.1" y1="280.5" x2="60.1" y2="281.8" stroke="#777" stroke-width="0.5"/>
<line x1="60.9" y1="280.5" x2="60.9" y2="281.8" stroke="#777" stroke-width="0.5"/>
<rect x="43.5" y="283.1" width="2.4" height="3.8" rx="0.8" fill="#b0b0b0"/>
<line x1="61.7" y1="280.5" x2="61.7" y2="282.8" stroke="#666" stroke-width="0.6"/>
<line x1="66.8" y1="280.5" x2="66.8" y2="281.8" stroke="#777" stroke-width="0.5"/>
<line x1="69.8" y1="280.5" x2="69.8" y2="281.8" stroke="#777" stroke-width="0.5"/>
<line x1="71.9" y1="280.5" x2="71.9" y2="281.8" stroke="#777" stroke-width="0.5"/>
<line x1="73.6" y1="280.5" x2="73.6" y2="281.8" stroke="#777" stroke-width="0.5"/>
<line x1="74.9" y1="280.5" x2="74.9" y2="281.8" stroke="#777" stroke-width="0.5"/>
<line x1="76.1" y1="280.5" x2="76.1" y2="281.8" stroke="#777" stroke-width="0.5"/>
<line x1="77.1" y1="280.5" x2="77.1" y2="281.8" stroke="#777" stroke-width="0.5"/>
<line x1="77.9" y1="280.5" x2="77.9" y2="281.8" stroke="#777" stroke-width="0.5"/>
<rect x="60.5" y="283.1" width="2.4" height="3.8" rx="0.8" fill="#b0b0b0"/>
<line x1="78.7" y1="280.5" x2="78.7" y2="282.8" stroke="#666" stroke-width="0.6"/>
<line x1="83.8" y1="280.5" x2="83.8" y2="281.8" stroke="#777" stroke-width="0.5"/>
<line x1="86.8" y1="280.5" x2="86.8" y2="281.8" stroke="#777" stroke-width="0.5"/>
<line x1="88.9" y1="280.5" x2="88.9" y2="281.8" stroke="#777" stroke-width="0.5"/>
<line x1="90.6" y1="280.5" x2="90.6" y2="281.8" stroke="#777" stroke-width="0.5"/>
<line x1="91.9" y1="280.5" x2="91.9" y2="281.8" stroke="#777" stroke-width="0.5"/>
<line x1="93.1" y1="280.5" x2="93.1" y2="281.8" stroke="#777" stroke-width="0.5"/>
<line x1="94.1" y1="280.5" x2="94.1" y2="281.8" stroke="#777" stroke-width="0.5"/>
<line x1="94.9" y1="280.5" x2="94.9" y2="281.8" stroke="#777" stroke-width="0.5"/>
<rect x="77.5" y="283.1" width="2.4" height="3.8" rx="0.8" fill="#b0b0b0"/>
<line x1="95.7" y1="280.5" x2="95.7" y2="282.8" stroke="#666" stroke-width="0.6"/>
<line x1="100.8" y1="280.5" x2="100.8" y2="281.8" stroke="#777" stroke-width="0.5"/>
<line x1="103.8" y1="280.5" x2="103.8" y2="281.8" stroke="#777" stroke-width="0.5"/>
<line x1="105.9" y1="280.5" x2="105.9" y2="281.8" stroke="#777" stroke-width="0.5"/>
<line x1="107.6" y1="280.5" x2="107.6" y2="281.8" stroke="#777" stroke-width="0.5"/>
<line x1="108.9" y1="280.5" x2="108.9" y2="281.8" stroke="#777" stroke-width="0.5"/>
<line x1="110.1" y1="280.5" x2="110.1" y2="281.8" stroke="#777" stroke-width="0.5"/>
<line x1="111.1" y1="280.5" x2="111.1" y2="281.8" stroke="#777" stroke-width="0.5"/>
<line x1="111.9" y1="280.5" x2="111.9" y2="281.8" stroke="#777" stroke-width="0.5"/>
<rect x="94.5" y="283.1" width="2.4" height="3.8" rx="0.8" fill="#b0b0b0"/>
<line x1="112.7" y1="280.5" x2="112.7" y2="282.8" stroke="#666" stroke-width="0.6"/>
<line x1="117.8" y1="280.5" x2="117.8" y2="281.8" stroke="#777" stroke-width="0.5"/>
<line x1="120.8" y1="280.5" x2="120.8" y2="281.8" stroke="#777" stroke-width="0.5"/>
<rect x="111.5" y="283.1" width="2.4" height="3.8" rx="0.8" fill="#b0b0b0"/>
<polyline points="35.4,200 35.4,280.5 121.4,280.5" fill="none" stroke="#555" stroke-width="0.8"/>
<polygon points="48.2,281.0 53.3,257.7 55.9,232.0 57.2,212.8 59.1,202.6 61.0,203.8 62.9,225.6 64.2,251.3 66.1,269.2 68.7,278.2 70.6,281.0" fill="#a8a8a8" stroke="#888" stroke-width="0.5"/>
<polyline points="38.0,281.0 38.8,281.0 39.6,278.5 40.4,279.9 41.3,278.5 42.1,278.8 42.9,277.9 43.7,276.3 44.1,274.6 44.5,276.3 44.9,273.0 45.3,273.1 45.7,271.8 46.2,270.7 46.6,271.1 47.0,270.9 47.4,267.8 47.8,268.1 48.2,266.1 48.5,265.9 48.7,264.4 49.0,262.8 49.3,261.8 49.5,261.0 49.8,262.1 50.1,259.9 50.3,258.1 50.6,259.2 50.9,258.5 51.1,255.9 51.4,254.0 51.5,253.1 51.6,251.7 51.7,251.4 51.8,249.6 51.9,249.0 52.0,248.0 52.2,247.8 52.3,247.7 52.4,246.2 52.5,244.2 52.6,243.1 52.7,242.4 52.8,240.9 52.9,239.8 53.0,238.0 53.1,237.6 53.2,238.7 53.3,235.2 53.3,235.3 53.4,234.7 53.5,234.4 53.6,231.5 53.7,230.7 53.8,229.6 53.9,229.0 54.0,228.2 54.1,228.7 54.2,227.4 54.3,226.5 54.4,222.9 54.5,222.0 54.6,223.0 54.6,222.6 54.7,220.3 54.8,219.6 54.9,216.9 55.0,217.1 55.1,217.7 55.2,216.4 55.4,215.4 55.5,214.8 55.7,211.6 55.9,210.2 56.0,209.3 56.2,209.4 56.4,208.8 56.5,208.6 56.7,206.9 56.9,205.7 57.0,205.0 57.2,203.1 57.7,204.3 58.1,203.7 58.5,206.9 59.0,206.2 59.7,207.3 60.3,205.4 61.0,203.4 61.1,203.9 61.2,205.3 61.3,207.5 61.4,208.7 61.5,208.0 61.5,208.9 61.6,211.3 61.7,212.5 61.8,212.9 61.9,213.5 62.0,215.6 62.1,214.9 62.2,216.8 62.3,218.3 62.4,220.8 62.4,220.9 62.5,222.6 62.6,222.4 62.7,222.7 62.8,223.8 62.9,227.0 63.0,227.2 63.0,227.1 63.1,227.2 63.1,229.7 63.2,231.3 63.2,231.5 63.3,232.1 63.3,234.3 63.4,236.1 63.4,235.1 63.5,235.5 63.5,237.5 63.6,238.7 63.6,240.5 63.7,240.1 63.7,242.9 63.8,243.8 63.8,244.1 63.9,244.2 63.9,247.6 64.0,246.6 64.0,249.2 64.1,248.4 64.1,249.4 64.2,252.1 64.3,251.7 64.4,254.6 64.5,254.3 64.6,254.3 64.7,255.4 64.8,257.0 64.9,258.8 65.0,260.6 65.2,259.2 65.3,260.9 65.4,261.4 65.5,264.7 65.6,263.2 65.7,263.9 65.8,264.9 65.9,266.9 66.0,269.4 66.1,270.4 66.4,270.9 66.7,272.7 67.0,273.5 67.3,272.7 67.5,273.3 67.8,276.5 68.1,276.9 68.4,275.8 68.7,278.7 69.3,278.8 70.0,279.7 70.6,281.0" fill="none" stroke="#98a050" stroke-width="0.75"/>
<polyline points="37.3,281.0 38.1,279.8 39.0,278.7 39.8,277.6 40.7,277.7 41.5,277.2 42.4,278.2 43.0,275.0 43.5,276.5 44.1,273.5 44.7,273.1 45.2,273.5 45.8,272.7 46.4,270.7 46.9,268.8 47.5,269.1 47.8,267.8 48.1,268.3 48.5,265.3 48.8,264.7 49.1,265.2 49.4,261.8 49.7,261.8 50.1,261.9 50.4,260.8 50.7,257.7 50.8,256.6 50.9,255.6 51.0,257.0 51.1,254.1 51.2,254.4 51.4,253.7 51.5,251.1 51.6,249.8 51.7,250.7 51.8,248.7 51.9,246.6 52.0,246.8 52.3,244.6 52.5,243.5 52.8,241.7 53.0,242.8 53.3,242.2 53.7,240.4 54.1,240.2 54.4,236.6 54.8,236.2 55.2,235.8 55.5,236.1 55.7,235.1 56.0,232.5 56.2,231.1 56.5,230.6 56.8,229.7 57.0,229.9 57.3,226.8 57.5,227.5 57.8,226.3 58.0,225.5 58.2,224.3 58.4,222.8 58.7,221.0 58.9,220.0 59.1,219.1 59.3,219.3 59.5,216.3 59.7,215.6 59.9,216.1 60.1,213.7 60.4,212.1 60.6,211.0 60.8,211.5 61.0,209.8 61.2,212.7 61.5,213.5 61.7,214.8 61.9,213.8 62.2,214.4 62.4,215.4 62.7,217.6 62.9,219.3 63.1,219.6 63.4,220.0 63.6,221.6 63.9,223.2 64.2,224.4 64.5,225.7 64.9,227.0 65.2,227.6 65.5,227.1 65.8,230.2 66.1,229.7 66.4,231.5 66.7,232.0 67.0,234.1 67.2,233.6 67.5,234.8 67.8,235.9 68.1,236.6 68.4,239.7 68.7,239.9 69.2,240.2 69.7,241.4 70.1,244.0 70.6,243.6 70.9,243.9 71.1,246.5 71.4,247.1 71.6,249.1 71.9,247.6 72.2,249.6 72.4,251.6 72.7,252.7 72.9,253.9 73.2,252.5 73.5,254.2 73.8,254.7 74.1,255.9 74.4,259.1 74.7,259.0 75.0,261.0 75.2,260.4 75.5,262.8 75.8,262.6 76.1,263.1 76.4,265.5 76.7,267.0 77.0,265.6 77.4,268.0 77.9,269.0 78.3,268.9 78.7,270.3 79.2,270.6 79.6,271.8 80.0,272.9 80.5,274.9 80.9,276.0 81.9,275.6 82.8,275.8 83.8,277.5 84.7,279.3 85.8,278.3 86.8,279.0 87.9,279.1 89.0,281.0 90.0,280.8 91.1,281.0" fill="none" stroke="#d85656" stroke-width="0.75"/>
<polyline points="38.6,281.0 39.4,279.1 40.2,278.5 41.0,278.7 41.8,278.4 42.6,278.0 43.4,275.8 44.2,275.3 45.0,276.1 45.6,274.4 46.3,273.2 46.9,272.3 47.6,273.2 48.2,270.5 48.9,270.3 49.5,268.8 49.7,268.0 50.0,268.3 50.2,267.6 50.5,264.9 50.7,263.4 51.0,263.9 51.2,261.5 51.5,259.9 51.7,261.5 52.0,259.1 52.2,259.3 52.5,257.1 52.7,257.5 52.9,255.2 53.2,253.4 53.4,251.9 53.6,252.4 53.8,251.6 54.1,251.3 54.3,247.9 54.5,248.4 54.7,246.6 55.0,246.0 55.2,243.9 55.3,243.2 55.4,242.8 55.5,242.9 55.6,239.5 55.7,239.5 55.9,239.3 56.0,238.7 56.1,235.5 56.2,234.2 56.3,235.4 56.4,234.4 56.5,232.0 56.6,229.7 56.8,231.2 56.9,228.6 57.0,229.1 57.1,227.2 57.3,226.8 57.4,223.9 57.5,224.6 57.6,222.0 57.8,221.5 57.9,221.7 58.0,220.7 58.1,217.9 58.3,216.9 58.4,216.4 58.6,215.8 58.8,214.4 59.1,212.6 59.3,212.0 59.5,212.3 59.7,211.8 60.0,208.4 60.2,208.9 60.4,208.4 60.7,207.4 61.0,210.6 61.3,209.5 61.6,211.8 62.0,212.7 62.3,213.8 62.6,213.9 62.9,215.2 63.0,216.6 63.2,217.2 63.3,218.8 63.5,219.2 63.6,220.2 63.8,220.0 63.9,222.7 64.1,223.3 64.2,223.6 64.3,226.1 64.5,227.1 64.6,227.2 64.8,227.4 64.9,229.2 65.1,229.2 65.2,230.3 65.4,232.1 65.5,232.2 65.7,234.2 65.9,235.4 66.1,235.1 66.3,237.8 66.5,237.3 66.6,240.1 66.8,241.3 67.0,241.6 67.2,241.3 67.4,243.6 67.8,244.3 68.2,246.9 68.5,245.6 68.9,248.7 69.3,250.1 69.6,250.3 69.8,251.5 70.1,250.7 70.4,253.9 70.6,253.5 70.9,255.8 71.2,256.6 71.4,255.5 71.7,258.2 72.0,259.6 72.2,258.1 72.5,259.9 72.8,262.1 73.1,261.4 73.4,264.5 73.7,263.9 74.0,266.4 74.2,265.6 74.5,267.6 74.8,269.8 75.1,268.9 75.4,270.1 75.7,271.8 76.3,272.2 76.8,272.3 77.4,273.7 77.9,274.5 78.5,277.6 79.0,277.8 79.6,279.3 80.6,277.6 81.5,279.7 82.5,278.2 83.4,279.7 84.4,280.3 85.4,279.9 86.3,281.0 87.3,281.0" fill="none" stroke="#5252c4" stroke-width="0.75"/>
<line x1="72.3" y1="200" x2="72.3" y2="280.5" stroke="#777" stroke-width="0.8"/>
<text x="94.9" y="208.6" font-size="7.1" font-weight="bold" text-anchor="start" fill="#c02a2a" stroke="#c02a2a" stroke-width="0.22" >18 ± 1%</text>
<text x="94.9" y="219.6" font-size="7.1" font-weight="bold" text-anchor="start" fill="#2a2a9a" stroke="#2a2a9a" stroke-width="0.22" >17 ± 3%</text>
<rect x="131.9" y="200" width="86.0" height="80.5" fill="#fff" stroke="none"/>
<polyline points="131.9,200 217.9,200 217.9,280.5" fill="none" stroke="#9a9a9a" stroke-width="0.9"/>
<line x1="129.6" y1="280.5" x2="131.9" y2="280.5" stroke="#666" stroke-width="0.6"/>
<rect x="125.3" y="277.5" width="2.6" height="4.2" rx="0.8" fill="#a5a5a5"/>
<line x1="130.6" y1="277.8" x2="131.9" y2="277.8" stroke="#666" stroke-width="0.6"/>
<line x1="130.6" y1="275.1" x2="131.9" y2="275.1" stroke="#666" stroke-width="0.6"/>
<line x1="130.6" y1="272.5" x2="131.9" y2="272.5" stroke="#666" stroke-width="0.6"/>
<line x1="130.6" y1="269.8" x2="131.9" y2="269.8" stroke="#666" stroke-width="0.6"/>
<line x1="129.6" y1="267.1" x2="131.9" y2="267.1" stroke="#666" stroke-width="0.6"/>
<rect x="125.3" y="264.1" width="2.6" height="4.2" rx="0.8" fill="#a5a5a5"/>
<line x1="130.6" y1="264.4" x2="131.9" y2="264.4" stroke="#666" stroke-width="0.6"/>
<line x1="130.6" y1="261.7" x2="131.9" y2="261.7" stroke="#666" stroke-width="0.6"/>
<line x1="130.6" y1="259.1" x2="131.9" y2="259.1" stroke="#666" stroke-width="0.6"/>
<line x1="130.6" y1="256.4" x2="131.9" y2="256.4" stroke="#666" stroke-width="0.6"/>
<line x1="129.6" y1="253.7" x2="131.9" y2="253.7" stroke="#666" stroke-width="0.6"/>
<rect x="125.3" y="250.7" width="2.6" height="4.2" rx="0.8" fill="#a5a5a5"/>
<line x1="130.6" y1="251.0" x2="131.9" y2="251.0" stroke="#666" stroke-width="0.6"/>
<line x1="130.6" y1="248.3" x2="131.9" y2="248.3" stroke="#666" stroke-width="0.6"/>
<line x1="130.6" y1="245.7" x2="131.9" y2="245.7" stroke="#666" stroke-width="0.6"/>
<line x1="130.6" y1="243.0" x2="131.9" y2="243.0" stroke="#666" stroke-width="0.6"/>
<line x1="129.6" y1="240.3" x2="131.9" y2="240.3" stroke="#666" stroke-width="0.6"/>
<rect x="125.3" y="237.3" width="2.6" height="4.2" rx="0.8" fill="#a5a5a5"/>
<line x1="130.6" y1="237.6" x2="131.9" y2="237.6" stroke="#666" stroke-width="0.6"/>
<line x1="130.6" y1="234.9" x2="131.9" y2="234.9" stroke="#666" stroke-width="0.6"/>
<line x1="130.6" y1="232.3" x2="131.9" y2="232.3" stroke="#666" stroke-width="0.6"/>
<line x1="130.6" y1="229.6" x2="131.9" y2="229.6" stroke="#666" stroke-width="0.6"/>
<line x1="129.6" y1="226.9" x2="131.9" y2="226.9" stroke="#666" stroke-width="0.6"/>
<rect x="125.3" y="223.9" width="2.6" height="4.2" rx="0.8" fill="#a5a5a5"/>
<line x1="130.6" y1="224.2" x2="131.9" y2="224.2" stroke="#666" stroke-width="0.6"/>
<line x1="130.6" y1="221.5" x2="131.9" y2="221.5" stroke="#666" stroke-width="0.6"/>
<line x1="130.6" y1="218.9" x2="131.9" y2="218.9" stroke="#666" stroke-width="0.6"/>
<line x1="130.6" y1="216.2" x2="131.9" y2="216.2" stroke="#666" stroke-width="0.6"/>
<line x1="129.6" y1="213.5" x2="131.9" y2="213.5" stroke="#666" stroke-width="0.6"/>
<rect x="125.3" y="210.5" width="2.6" height="4.2" rx="0.8" fill="#a5a5a5"/>
<line x1="130.6" y1="210.8" x2="131.9" y2="210.8" stroke="#666" stroke-width="0.6"/>
<line x1="130.6" y1="208.1" x2="131.9" y2="208.1" stroke="#666" stroke-width="0.6"/>
<line x1="130.6" y1="205.5" x2="131.9" y2="205.5" stroke="#666" stroke-width="0.6"/>
<line x1="130.6" y1="202.8" x2="131.9" y2="202.8" stroke="#666" stroke-width="0.6"/>
<line x1="129.6" y1="200.1" x2="131.9" y2="200.1" stroke="#666" stroke-width="0.6"/>
<rect x="125.3" y="197.1" width="2.6" height="4.2" rx="0.8" fill="#a5a5a5"/>
<line x1="141.2" y1="280.5" x2="141.2" y2="282.8" stroke="#666" stroke-width="0.6"/>
<line x1="146.3" y1="280.5" x2="146.3" y2="281.8" stroke="#777" stroke-width="0.5"/>
<line x1="149.3" y1="280.5" x2="149.3" y2="281.8" stroke="#777" stroke-width="0.5"/>
<line x1="151.4" y1="280.5" x2="151.4" y2="281.8" stroke="#777" stroke-width="0.5"/>
<line x1="153.1" y1="280.5" x2="153.1" y2="281.8" stroke="#777" stroke-width="0.5"/>
<line x1="154.4" y1="280.5" x2="154.4" y2="281.8" stroke="#777" stroke-width="0.5"/>
<line x1="155.6" y1="280.5" x2="155.6" y2="281.8" stroke="#777" stroke-width="0.5"/>
<line x1="156.6" y1="280.5" x2="156.6" y2="281.8" stroke="#777" stroke-width="0.5"/>
<line x1="157.4" y1="280.5" x2="157.4" y2="281.8" stroke="#777" stroke-width="0.5"/>
<rect x="140.0" y="283.1" width="2.4" height="3.8" rx="0.8" fill="#b0b0b0"/>
<line x1="158.2" y1="280.5" x2="158.2" y2="282.8" stroke="#666" stroke-width="0.6"/>
<line x1="163.3" y1="280.5" x2="163.3" y2="281.8" stroke="#777" stroke-width="0.5"/>
<line x1="166.3" y1="280.5" x2="166.3" y2="281.8" stroke="#777" stroke-width="0.5"/>
<line x1="168.4" y1="280.5" x2="168.4" y2="281.8" stroke="#777" stroke-width="0.5"/>
<line x1="170.1" y1="280.5" x2="170.1" y2="281.8" stroke="#777" stroke-width="0.5"/>
<line x1="171.4" y1="280.5" x2="171.4" y2="281.8" stroke="#777" stroke-width="0.5"/>
<line x1="172.6" y1="280.5" x2="172.6" y2="281.8" stroke="#777" stroke-width="0.5"/>
<line x1="173.6" y1="280.5" x2="173.6" y2="281.8" stroke="#777" stroke-width="0.5"/>
<line x1="174.4" y1="280.5" x2="174.4" y2="281.8" stroke="#777" stroke-width="0.5"/>
<rect x="157.0" y="283.1" width="2.4" height="3.8" rx="0.8" fill="#b0b0b0"/>
<line x1="175.2" y1="280.5" x2="175.2" y2="282.8" stroke="#666" stroke-width="0.6"/>
<line x1="180.3" y1="280.5" x2="180.3" y2="281.8" stroke="#777" stroke-width="0.5"/>
<line x1="183.3" y1="280.5" x2="183.3" y2="281.8" stroke="#777" stroke-width="0.5"/>
<line x1="185.4" y1="280.5" x2="185.4" y2="281.8" stroke="#777" stroke-width="0.5"/>
<line x1="187.1" y1="280.5" x2="187.1" y2="281.8" stroke="#777" stroke-width="0.5"/>
<line x1="188.4" y1="280.5" x2="188.4" y2="281.8" stroke="#777" stroke-width="0.5"/>
<line x1="189.6" y1="280.5" x2="189.6" y2="281.8" stroke="#777" stroke-width="0.5"/>
<line x1="190.6" y1="280.5" x2="190.6" y2="281.8" stroke="#777" stroke-width="0.5"/>
<line x1="191.4" y1="280.5" x2="191.4" y2="281.8" stroke="#777" stroke-width="0.5"/>
<rect x="174.0" y="283.1" width="2.4" height="3.8" rx="0.8" fill="#b0b0b0"/>
<line x1="192.2" y1="280.5" x2="192.2" y2="282.8" stroke="#666" stroke-width="0.6"/>
<line x1="197.3" y1="280.5" x2="197.3" y2="281.8" stroke="#777" stroke-width="0.5"/>
<line x1="200.3" y1="280.5" x2="200.3" y2="281.8" stroke="#777" stroke-width="0.5"/>
<line x1="202.4" y1="280.5" x2="202.4" y2="281.8" stroke="#777" stroke-width="0.5"/>
<line x1="204.1" y1="280.5" x2="204.1" y2="281.8" stroke="#777" stroke-width="0.5"/>
<line x1="205.4" y1="280.5" x2="205.4" y2="281.8" stroke="#777" stroke-width="0.5"/>
<line x1="206.6" y1="280.5" x2="206.6" y2="281.8" stroke="#777" stroke-width="0.5"/>
<line x1="207.6" y1="280.5" x2="207.6" y2="281.8" stroke="#777" stroke-width="0.5"/>
<line x1="208.4" y1="280.5" x2="208.4" y2="281.8" stroke="#777" stroke-width="0.5"/>
<rect x="191.0" y="283.1" width="2.4" height="3.8" rx="0.8" fill="#b0b0b0"/>
<line x1="209.2" y1="280.5" x2="209.2" y2="282.8" stroke="#666" stroke-width="0.6"/>
<line x1="214.3" y1="280.5" x2="214.3" y2="281.8" stroke="#777" stroke-width="0.5"/>
<line x1="217.3" y1="280.5" x2="217.3" y2="281.8" stroke="#777" stroke-width="0.5"/>
<rect x="208.0" y="283.1" width="2.4" height="3.8" rx="0.8" fill="#b0b0b0"/>
<polyline points="131.9,200 131.9,280.5 217.9,280.5" fill="none" stroke="#555" stroke-width="0.8"/>
<polygon points="149.4,281.0 151.8,266.1 153.5,241.3 155.2,216.5 156.5,205.0 157.6,204.1 159.3,219.8 160.9,249.6 162.6,266.1 165.1,276.1 167.6,281.0" fill="#a8a8a8" stroke="#888" stroke-width="0.5"/>
<polyline points="135.3,281.0 136.0,280.3 136.6,279.6 137.3,279.7 137.9,276.5 138.6,278.4 139.3,276.5 139.9,274.9 140.6,275.3 141.2,272.9 141.9,274.3 142.2,272.1 142.4,270.4 142.7,270.7 143.0,268.8 143.3,267.0 143.6,267.7 143.8,264.7 144.1,266.0 144.4,263.4 144.6,263.6 144.9,263.6 145.2,261.5 145.4,260.7 145.5,258.7 145.7,256.7 145.9,255.8 146.0,255.2 146.2,255.6 146.4,254.0 146.5,253.3 146.7,253.4 146.9,250.2 147.0,249.5 147.2,249.7 147.4,246.9 147.5,245.8 147.7,245.9 148.0,244.1 148.4,243.9 148.7,242.5 149.1,242.6 149.4,241.6 149.5,239.4 149.6,239.6 149.7,238.1 149.8,236.1 149.9,237.5 150.0,234.3 150.1,233.0 150.2,231.8 150.3,232.4 150.4,232.1 150.5,230.8 150.6,228.6 150.7,227.2 150.8,225.4 150.9,226.3 151.0,225.0 151.2,223.3 151.3,223.1 151.5,221.5 151.6,221.9 151.8,220.2 151.9,217.7 152.1,218.6 152.2,215.0 152.4,215.4 152.5,214.0 152.7,212.4 152.9,210.9 153.1,212.0 153.2,208.7 153.4,209.3 153.6,209.5 153.8,206.1 153.9,205.2 154.1,205.4 154.3,204.1 154.6,205.6 154.9,207.1 155.2,206.3 155.5,207.7 155.8,206.7 156.0,204.8 156.2,206.3 156.5,204.9 156.6,205.8 156.7,204.7 156.8,208.2 156.9,209.0 157.0,209.2 157.1,211.0 157.1,211.2 157.2,211.5 157.3,212.2 157.4,213.6 157.5,214.1 157.6,216.0 157.7,218.3 157.7,219.2 157.8,220.6 157.8,221.3 157.8,221.0 157.9,222.9 157.9,223.5 158.0,225.6 158.1,225.9 158.1,226.1 158.2,228.3 158.2,230.3 158.2,229.1 158.3,232.1 158.3,230.5 158.4,232.3 158.5,233.3 158.5,235.8 158.6,237.5 158.6,237.9 158.7,237.7 158.7,240.4 158.8,239.8 158.8,240.5 158.9,243.5 158.9,243.7 159.0,244.9 159.0,245.9 159.1,247.9 159.2,247.4 159.2,249.5 159.3,250.1 159.4,251.6 159.4,251.3 159.5,253.2 159.5,253.8 159.6,254.0 159.7,254.8 159.7,257.0 159.8,256.4 159.9,259.9 159.9,258.7 160.0,259.3 160.0,260.6 160.1,264.1 160.3,263.4 160.4,263.8 160.6,264.5 160.7,265.6 160.9,268.7 161.0,269.5 161.2,270.8 161.3,271.9 161.5,271.0 161.6,273.6 161.8,274.0 162.1,276.3 162.5,277.2 162.8,278.4 163.2,276.9 163.5,280.2 163.9,281.0 164.2,281.0" fill="none" stroke="#98a050" stroke-width="0.75"/>
<polyline points="137.0,281.0 138.0,281.0 138.9,279.1 139.9,279.0 140.8,278.3 141.8,277.7 142.8,279.5 143.7,279.0 144.7,278.1 145.6,278.2 146.6,277.3 147.5,275.9 148.5,275.0 149.3,274.3 150.2,275.5 151.0,273.3 151.8,273.0 152.7,272.6 153.5,270.8 154.3,270.8 155.1,270.2 156.0,270.8 156.8,269.1 157.3,268.1 157.7,269.0 158.2,266.7 158.6,266.8 159.1,265.2 159.5,262.7 160.0,262.8 160.4,261.9 160.9,262.0 161.3,259.7 161.7,259.7 162.1,258.2 162.6,256.3 163.0,257.0 163.4,253.8 163.8,254.8 164.2,252.0 164.5,250.5 164.9,250.1 165.2,250.7 165.6,250.3 165.9,246.6 166.2,246.9 166.6,245.9 166.9,245.8 167.3,243.1 167.6,243.0 167.8,241.6 168.1,241.9 168.3,239.4 168.6,240.3 168.8,237.4 169.0,236.3 169.3,236.6 169.5,235.1 169.8,233.0 170.0,233.5 170.3,230.9 170.6,231.8 170.9,230.5 171.2,229.8 171.6,228.3 171.9,226.5 172.2,225.6 172.5,224.5 172.8,224.9 173.1,221.6 173.4,222.8 173.8,219.3 174.1,218.8 174.4,217.9 174.7,218.7 175.0,216.5 175.6,215.1 176.2,215.5 176.9,212.7 177.5,212.3 178.3,213.3 179.2,214.8 180.0,215.6 180.5,214.3 181.0,212.5 181.4,211.4 181.9,209.9 182.4,210.9 183.2,209.6 184.1,209.0 184.4,208.4 184.7,210.2 185.0,212.1 185.3,212.6 185.7,212.4 186.0,214.3 186.3,216.6 186.6,215.8 186.9,216.6 187.3,217.9 187.6,220.1 187.9,221.5 188.2,220.5 188.6,221.5 188.9,222.8 189.2,224.0 189.6,225.6 189.9,225.6 190.1,227.0 190.3,227.6 190.6,230.8 190.8,231.1 191.0,230.3 191.2,233.7 191.4,232.3 191.7,234.1 191.9,236.7 192.1,237.2 192.3,238.0 192.5,238.2 192.8,238.5 193.0,240.7 193.2,240.2 193.5,241.4 193.8,242.9 194.0,242.9 194.3,244.9 194.6,246.9 194.8,247.6 195.1,248.1 195.4,249.4 195.7,249.9 195.9,250.0 196.2,252.2 196.5,252.6 196.8,254.5 197.1,256.0 197.3,255.6 197.6,257.0 197.9,258.4 198.2,258.5 198.4,258.9 198.7,261.3 199.0,262.7 199.2,263.3 199.5,264.1 199.8,265.5 200.4,265.9 200.9,266.7 201.5,267.1 202.0,267.7 202.6,269.5 203.1,268.9 203.7,270.7 204.2,272.7 204.8,273.4 205.6,273.8 206.5,273.3 207.3,274.4 208.1,275.1 208.9,276.2 209.8,276.2 210.6,277.6 211.4,278.9 212.4,277.5 213.4,279.5 214.3,280.5 215.3,280.0 216.3,281.0" fill="none" stroke="#d85656" stroke-width="0.75"/>
<polyline points="135.3,281.0 136.2,280.5 137.1,281.0 138.0,278.4 138.9,279.3 139.8,277.8 140.7,279.1 141.6,279.1 142.5,277.5 143.4,275.9 144.3,276.8 145.2,276.2 145.8,275.9 146.4,274.5 147.1,274.0 147.7,273.7 148.3,272.0 148.9,270.9 149.6,271.6 150.2,268.7 150.7,269.1 151.1,267.4 151.6,267.5 152.0,264.8 152.5,266.3 152.9,263.6 153.4,261.9 153.8,261.6 154.3,261.0 154.7,259.0 155.2,259.3 155.5,258.3 155.9,258.1 156.2,256.1 156.5,254.9 156.8,253.8 157.2,254.2 157.5,253.8 157.8,251.7 158.2,249.8 158.5,250.4 158.8,248.3 159.2,246.8 159.5,245.6 159.8,246.4 160.2,245.5 160.5,244.0 160.8,242.6 161.1,241.9 161.5,239.9 161.8,241.0 161.9,238.2 162.1,238.0 162.2,237.4 162.4,236.4 162.5,234.3 162.7,232.8 162.8,232.5 163.0,230.2 163.1,231.1 163.3,228.7 163.4,229.1 164.0,226.6 164.7,226.1 165.3,224.9 165.9,224.6 166.2,222.9 166.5,221.3 166.8,222.3 167.2,220.0 167.5,218.9 167.8,218.0 168.1,217.5 168.4,216.3 168.8,215.9 169.1,215.1 169.5,213.3 169.8,213.9 170.2,212.8 170.5,209.6 170.9,210.8 171.7,210.2 172.6,209.0 173.4,206.4 174.2,207.5 175.0,207.8 175.8,206.9 176.4,207.8 177.1,211.2 177.7,211.2 178.3,210.9 178.6,211.5 179.0,212.6 179.3,213.8 179.6,216.3 179.9,216.1 180.3,216.6 180.6,219.7 180.9,220.3 181.3,219.6 181.6,222.6 182.0,222.8 182.4,224.4 182.8,225.1 183.2,226.8 183.7,227.5 184.1,228.7 184.5,227.9 184.9,230.3 185.2,230.9 185.5,232.6 185.8,232.8 186.1,235.1 186.4,235.2 186.7,235.4 187.0,236.4 187.3,237.2 187.6,239.2 187.9,239.0 188.2,241.2 188.5,241.3 188.8,243.2 189.0,244.2 189.3,245.3 189.6,247.1 189.8,245.7 190.1,249.0 190.4,248.9 190.7,250.2 190.9,251.4 191.2,252.9 191.5,252.5 191.8,253.6 192.1,256.1 192.3,254.6 192.6,257.2 192.9,258.1 193.2,257.4 193.4,260.0 193.7,261.1 194.0,262.8 194.2,262.1 194.5,264.9 194.8,264.5 195.4,265.4 195.9,267.5 196.5,266.0 197.0,268.8 197.6,269.5 198.1,269.6 198.7,272.0 199.2,271.5 199.8,272.7 200.6,273.5 201.5,274.8 202.3,273.8 203.1,275.1 203.9,275.6 204.8,276.6 205.6,278.0 206.4,277.1 207.4,279.0 208.5,278.3 209.5,278.9 210.6,278.7 211.6,279.8 212.6,281.0 213.7,281.0 214.7,281.0" fill="none" stroke="#5252c4" stroke-width="0.75"/>
<line x1="169.7" y1="200" x2="169.7" y2="280.5" stroke="#777" stroke-width="0.8"/>
<text x="191.4" y="208.6" font-size="7.1" font-weight="bold" text-anchor="start" fill="#c02a2a" stroke="#c02a2a" stroke-width="0.22" >76 ± 2%</text>
<text x="191.4" y="219.6" font-size="7.1" font-weight="bold" text-anchor="start" fill="#2a2a9a" stroke="#2a2a9a" stroke-width="0.22" >59 ± 1%</text>
<rect x="228.9" y="200" width="85.99999999999997" height="80.5" fill="#fff" stroke="none"/>
<polyline points="228.9,200 314.9,200 314.9,280.5" fill="none" stroke="#9a9a9a" stroke-width="0.9"/>
<line x1="226.6" y1="280.5" x2="228.9" y2="280.5" stroke="#666" stroke-width="0.6"/>
<rect x="222.3" y="277.5" width="2.6" height="4.2" rx="0.8" fill="#a5a5a5"/>
<line x1="227.6" y1="277.8" x2="228.9" y2="277.8" stroke="#666" stroke-width="0.6"/>
<line x1="227.6" y1="275.1" x2="228.9" y2="275.1" stroke="#666" stroke-width="0.6"/>
<line x1="227.6" y1="272.5" x2="228.9" y2="272.5" stroke="#666" stroke-width="0.6"/>
<line x1="227.6" y1="269.8" x2="228.9" y2="269.8" stroke="#666" stroke-width="0.6"/>
<line x1="226.6" y1="267.1" x2="228.9" y2="267.1" stroke="#666" stroke-width="0.6"/>
<rect x="222.3" y="264.1" width="2.6" height="4.2" rx="0.8" fill="#a5a5a5"/>
<line x1="227.6" y1="264.4" x2="228.9" y2="264.4" stroke="#666" stroke-width="0.6"/>
<line x1="227.6" y1="261.7" x2="228.9" y2="261.7" stroke="#666" stroke-width="0.6"/>
<line x1="227.6" y1="259.1" x2="228.9" y2="259.1" stroke="#666" stroke-width="0.6"/>
<line x1="227.6" y1="256.4" x2="228.9" y2="256.4" stroke="#666" stroke-width="0.6"/>
<line x1="226.6" y1="253.7" x2="228.9" y2="253.7" stroke="#666" stroke-width="0.6"/>
<rect x="222.3" y="250.7" width="2.6" height="4.2" rx="0.8" fill="#a5a5a5"/>
<line x1="227.6" y1="251.0" x2="228.9" y2="251.0" stroke="#666" stroke-width="0.6"/>
<line x1="227.6" y1="248.3" x2="228.9" y2="248.3" stroke="#666" stroke-width="0.6"/>
<line x1="227.6" y1="245.7" x2="228.9" y2="245.7" stroke="#666" stroke-width="0.6"/>
<line x1="227.6" y1="243.0" x2="228.9" y2="243.0" stroke="#666" stroke-width="0.6"/>
<line x1="226.6" y1="240.3" x2="228.9" y2="240.3" stroke="#666" stroke-width="0.6"/>
<rect x="222.3" y="237.3" width="2.6" height="4.2" rx="0.8" fill="#a5a5a5"/>
<line x1="227.6" y1="237.6" x2="228.9" y2="237.6" stroke="#666" stroke-width="0.6"/>
<line x1="227.6" y1="234.9" x2="228.9" y2="234.9" stroke="#666" stroke-width="0.6"/>
<line x1="227.6" y1="232.3" x2="228.9" y2="232.3" stroke="#666" stroke-width="0.6"/>
<line x1="227.6" y1="229.6" x2="228.9" y2="229.6" stroke="#666" stroke-width="0.6"/>
<line x1="226.6" y1="226.9" x2="228.9" y2="226.9" stroke="#666" stroke-width="0.6"/>
<rect x="222.3" y="223.9" width="2.6" height="4.2" rx="0.8" fill="#a5a5a5"/>
<line x1="227.6" y1="224.2" x2="228.9" y2="224.2" stroke="#666" stroke-width="0.6"/>
<line x1="227.6" y1="221.5" x2="228.9" y2="221.5" stroke="#666" stroke-width="0.6"/>
<line x1="227.6" y1="218.9" x2="228.9" y2="218.9" stroke="#666" stroke-width="0.6"/>
<line x1="227.6" y1="216.2" x2="228.9" y2="216.2" stroke="#666" stroke-width="0.6"/>
<line x1="226.6" y1="213.5" x2="228.9" y2="213.5" stroke="#666" stroke-width="0.6"/>
<rect x="222.3" y="210.5" width="2.6" height="4.2" rx="0.8" fill="#a5a5a5"/>
<line x1="227.6" y1="210.8" x2="228.9" y2="210.8" stroke="#666" stroke-width="0.6"/>
<line x1="227.6" y1="208.1" x2="228.9" y2="208.1" stroke="#666" stroke-width="0.6"/>
<line x1="227.6" y1="205.5" x2="228.9" y2="205.5" stroke="#666" stroke-width="0.6"/>
<line x1="227.6" y1="202.8" x2="228.9" y2="202.8" stroke="#666" stroke-width="0.6"/>
<line x1="226.6" y1="200.1" x2="228.9" y2="200.1" stroke="#666" stroke-width="0.6"/>
<rect x="222.3" y="197.1" width="2.6" height="4.2" rx="0.8" fill="#a5a5a5"/>
<line x1="238.2" y1="280.5" x2="238.2" y2="282.8" stroke="#666" stroke-width="0.6"/>
<line x1="243.3" y1="280.5" x2="243.3" y2="281.8" stroke="#777" stroke-width="0.5"/>
<line x1="246.3" y1="280.5" x2="246.3" y2="281.8" stroke="#777" stroke-width="0.5"/>
<line x1="248.4" y1="280.5" x2="248.4" y2="281.8" stroke="#777" stroke-width="0.5"/>
<line x1="250.1" y1="280.5" x2="250.1" y2="281.8" stroke="#777" stroke-width="0.5"/>
<line x1="251.4" y1="280.5" x2="251.4" y2="281.8" stroke="#777" stroke-width="0.5"/>
<line x1="252.6" y1="280.5" x2="252.6" y2="281.8" stroke="#777" stroke-width="0.5"/>
<line x1="253.6" y1="280.5" x2="253.6" y2="281.8" stroke="#777" stroke-width="0.5"/>
<line x1="254.4" y1="280.5" x2="254.4" y2="281.8" stroke="#777" stroke-width="0.5"/>
<rect x="237.0" y="283.1" width="2.4" height="3.8" rx="0.8" fill="#b0b0b0"/>
<line x1="255.2" y1="280.5" x2="255.2" y2="282.8" stroke="#666" stroke-width="0.6"/>
<line x1="260.3" y1="280.5" x2="260.3" y2="281.8" stroke="#777" stroke-width="0.5"/>
<line x1="263.3" y1="280.5" x2="263.3" y2="281.8" stroke="#777" stroke-width="0.5"/>
<line x1="265.4" y1="280.5" x2="265.4" y2="281.8" stroke="#777" stroke-width="0.5"/>
<line x1="267.1" y1="280.5" x2="267.1" y2="281.8" stroke="#777" stroke-width="0.5"/>
<line x1="268.4" y1="280.5" x2="268.4" y2="281.8" stroke="#777" stroke-width="0.5"/>
<line x1="269.6" y1="280.5" x2="269.6" y2="281.8" stroke="#777" stroke-width="0.5"/>
<line x1="270.6" y1="280.5" x2="270.6" y2="281.8" stroke="#777" stroke-width="0.5"/>
<line x1="271.4" y1="280.5" x2="271.4" y2="281.8" stroke="#777" stroke-width="0.5"/>
<rect x="254.0" y="283.1" width="2.4" height="3.8" rx="0.8" fill="#b0b0b0"/>
<line x1="272.2" y1="280.5" x2="272.2" y2="282.8" stroke="#666" stroke-width="0.6"/>
<line x1="277.3" y1="280.5" x2="277.3" y2="281.8" stroke="#777" stroke-width="0.5"/>
<line x1="280.3" y1="280.5" x2="280.3" y2="281.8" stroke="#777" stroke-width="0.5"/>
<line x1="282.4" y1="280.5" x2="282.4" y2="281.8" stroke="#777" stroke-width="0.5"/>
<line x1="284.1" y1="280.5" x2="284.1" y2="281.8" stroke="#777" stroke-width="0.5"/>
<line x1="285.4" y1="280.5" x2="285.4" y2="281.8" stroke="#777" stroke-width="0.5"/>
<line x1="286.6" y1="280.5" x2="286.6" y2="281.8" stroke="#777" stroke-width="0.5"/>
<line x1="287.6" y1="280.5" x2="287.6" y2="281.8" stroke="#777" stroke-width="0.5"/>
<line x1="288.4" y1="280.5" x2="288.4" y2="281.8" stroke="#777" stroke-width="0.5"/>
<rect x="271.0" y="283.1" width="2.4" height="3.8" rx="0.8" fill="#b0b0b0"/>
<line x1="289.2" y1="280.5" x2="289.2" y2="282.8" stroke="#666" stroke-width="0.6"/>
<line x1="294.3" y1="280.5" x2="294.3" y2="281.8" stroke="#777" stroke-width="0.5"/>
<line x1="297.3" y1="280.5" x2="297.3" y2="281.8" stroke="#777" stroke-width="0.5"/>
<line x1="299.4" y1="280.5" x2="299.4" y2="281.8" stroke="#777" stroke-width="0.5"/>
<line x1="301.1" y1="280.5" x2="301.1" y2="281.8" stroke="#777" stroke-width="0.5"/>
<line x1="302.4" y1="280.5" x2="302.4" y2="281.8" stroke="#777" stroke-width="0.5"/>
<line x1="303.6" y1="280.5" x2="303.6" y2="281.8" stroke="#777" stroke-width="0.5"/>
<line x1="304.6" y1="280.5" x2="304.6" y2="281.8" stroke="#777" stroke-width="0.5"/>
<line x1="305.4" y1="280.5" x2="305.4" y2="281.8" stroke="#777" stroke-width="0.5"/>
<rect x="288.0" y="283.1" width="2.4" height="3.8" rx="0.8" fill="#b0b0b0"/>
<line x1="306.2" y1="280.5" x2="306.2" y2="282.8" stroke="#666" stroke-width="0.6"/>
<line x1="311.3" y1="280.5" x2="311.3" y2="281.8" stroke="#777" stroke-width="0.5"/>
<line x1="314.3" y1="280.5" x2="314.3" y2="281.8" stroke="#777" stroke-width="0.5"/>
<rect x="305.0" y="283.1" width="2.4" height="3.8" rx="0.8" fill="#b0b0b0"/>
<polyline points="228.9,200 228.9,280.5 314.9,280.5" fill="none" stroke="#555" stroke-width="0.8"/>
<polygon points="243.1,281.0 247.2,272.8 250.5,254.6 252.2,233.1 253.5,208.3 254.6,205.0 256.3,224.8 257.9,252.9 259.6,266.1 262.1,276.1 264.6,281.0" fill="#a8a8a8" stroke="#888" stroke-width="0.5"/>
<polyline points="232.3,281.0 232.9,281.0 233.5,278.8 234.1,278.0 234.7,277.1 235.3,277.2 235.9,276.5 236.4,276.1 237.0,273.0 237.6,274.3 238.2,273.9 238.8,272.1 239.4,269.8 240.0,269.7 240.6,268.0 240.8,267.6 241.1,268.8 241.3,266.9 241.6,266.1 241.8,265.5 242.0,264.9 242.3,263.0 242.5,262.0 242.8,261.1 243.0,260.3 243.3,259.0 243.5,258.3 243.7,255.9 244.0,256.3 244.2,254.7 244.5,254.7 244.7,251.7 244.9,250.9 245.0,249.4 245.2,250.6 245.3,249.9 245.5,248.1 245.6,246.2 245.8,246.5 245.9,245.3 246.1,243.6 246.2,241.6 246.4,240.7 246.5,240.0 246.6,238.7 246.7,238.0 246.8,237.6 246.9,237.4 247.0,233.8 247.1,234.3 247.2,231.7 247.3,230.9 247.4,231.9 247.5,230.2 247.6,230.2 247.7,227.7 247.8,225.4 247.9,225.5 248.0,225.1 248.1,225.1 248.2,224.2 248.3,221.6 248.4,220.4 248.5,218.4 248.6,219.0 248.7,216.7 248.8,215.5 249.0,214.1 249.1,213.0 249.2,214.0 249.3,211.3 249.4,212.8 249.5,209.1 249.6,210.4 249.7,207.2 250.0,205.9 250.3,207.0 250.7,204.5 251.0,205.0 251.3,202.4 251.6,203.1 251.9,206.3 252.2,207.2 252.4,208.8 252.7,209.5 253.0,208.7 253.2,209.1 253.3,208.2 253.5,206.3 253.6,206.6 253.8,203.4 253.9,206.5 253.9,206.8 254.0,205.7 254.1,206.8 254.1,209.7 254.2,211.3 254.3,210.1 254.3,211.8 254.4,214.1 254.4,213.4 254.5,216.6 254.6,216.5 254.6,216.2 254.7,218.2 254.8,219.8 254.8,220.5 254.9,222.2 255.0,221.7 255.0,224.7 255.1,224.4 255.2,226.3 255.2,227.3 255.2,227.7 255.3,228.6 255.3,230.8 255.4,232.3 255.4,232.9 255.5,233.3 255.6,233.5 255.6,233.8 255.7,237.6 255.7,237.8 255.8,239.2 255.8,238.8 255.8,240.6 255.9,242.8 256.0,243.4 256.0,243.7 256.1,243.9 256.1,245.3 256.2,247.7 256.2,247.2 256.2,249.1 256.3,249.9 256.4,251.8 256.5,252.6 256.6,252.1 256.6,252.3 256.7,254.1 256.8,255.7 256.9,257.2 257.0,258.9 257.1,260.2 257.1,258.7 257.2,262.1 257.3,263.1 257.4,264.3 257.5,264.5 257.6,264.6 257.6,267.4 257.7,268.3 257.8,269.0 257.9,270.7 258.2,270.1 258.5,270.3 258.8,272.8 259.1,274.6 259.4,273.8 259.7,276.5 260.0,278.1 260.3,277.1 260.6,279.2 260.9,280.5 261.2,281.0" fill="none" stroke="#98a050" stroke-width="0.75"/>
<polyline points="230.7,281.0 231.6,280.4 232.5,279.2 233.4,278.8 234.2,279.7 235.1,279.3 236.0,277.8 236.9,276.3 237.8,277.8 238.7,277.2 239.5,275.2 240.4,275.6 241.3,276.0 242.2,275.5 242.9,273.6 243.5,272.7 244.2,272.2 244.8,270.2 245.5,269.4 246.2,268.5 246.8,269.2 247.5,267.4 248.1,267.1 248.8,265.8 249.2,265.2 249.5,263.2 249.9,262.0 250.2,263.7 250.6,261.0 250.9,259.3 251.3,259.9 251.7,259.4 252.0,256.7 252.4,256.9 252.7,255.3 253.1,254.8 253.4,252.5 253.8,251.6 254.1,253.3 254.4,252.0 254.6,250.0 254.9,249.2 255.2,247.4 255.5,247.9 255.7,245.9 256.0,246.4 256.3,244.9 256.6,244.1 256.8,243.6 257.1,240.6 257.4,239.0 257.7,238.4 258.0,237.3 258.3,236.0 258.6,234.8 258.9,235.2 259.2,235.0 259.5,232.8 259.8,233.1 260.1,232.0 260.4,228.6 260.8,229.1 261.1,227.6 261.5,225.9 261.8,227.3 262.2,224.4 262.5,224.3 262.9,223.6 263.2,223.4 263.5,221.4 263.8,219.6 264.0,218.6 264.3,216.7 264.6,217.8 265.1,216.9 265.6,213.8 266.0,212.3 266.5,211.9 267.0,211.2 267.6,211.9 268.2,211.1 268.9,210.1 269.5,207.0 270.3,208.3 271.2,207.2 272.0,206.2 272.6,208.2 273.2,206.6 273.9,207.9 274.5,210.6 274.7,212.2 275.0,212.5 275.2,212.5 275.4,214.4 275.6,215.9 275.9,215.1 276.1,216.8 276.3,217.7 276.5,218.3 276.8,220.4 277.0,220.6 277.2,221.8 277.4,222.6 277.7,225.2 277.9,224.4 278.1,227.4 278.3,227.0 278.5,227.6 278.7,231.1 279.0,230.2 279.2,233.3 279.4,234.1 279.6,235.2 279.8,234.1 280.0,236.0 280.2,236.0 280.4,239.4 280.6,240.2 280.7,240.6 280.9,241.1 281.1,241.8 281.3,244.2 281.5,244.2 281.7,245.6 281.9,245.3 282.2,246.5 282.4,247.1 282.7,249.9 282.9,250.5 283.2,250.4 283.4,253.4 283.7,252.8 283.9,254.2 284.2,254.5 284.4,255.8 284.7,258.4 284.9,258.0 285.2,258.6 285.7,260.4 286.1,260.8 286.6,263.4 287.0,262.1 287.5,265.4 287.9,263.7 288.4,267.0 288.8,267.2 289.3,266.9 289.7,268.5 290.2,268.9 291.0,269.5 291.9,270.1 292.7,271.3 293.5,273.7 294.3,274.5 295.1,275.0 296.0,273.4 296.8,274.6 297.8,276.6 298.9,274.6 299.9,276.8 301.0,275.9 302.0,278.1 303.0,275.7 304.1,278.2 305.1,277.3 306.0,277.2 307.0,277.2 307.9,280.0 308.9,279.7 309.8,279.2 310.8,280.3 311.7,281.0" fill="none" stroke="#d85656" stroke-width="0.75"/>
<polyline points="230.7,281.0 231.3,281.0 231.9,278.6 232.5,278.7 233.1,276.7 233.8,276.0 234.4,276.8 235.0,275.8 235.6,273.6 236.2,272.4 236.8,271.6 237.5,272.2 238.1,271.1 238.7,269.6 239.3,268.6 240.0,268.9 240.6,268.4 240.9,267.7 241.3,266.1 241.6,264.0 241.9,262.6 242.2,263.5 242.6,261.6 242.9,261.5 243.2,258.6 243.6,259.8 243.9,257.4 244.3,257.8 244.7,256.8 245.1,254.8 245.6,252.4 246.0,253.9 246.4,251.6 246.8,251.7 247.2,248.9 247.4,247.7 247.7,248.5 247.9,246.3 248.2,244.7 248.4,244.3 248.7,243.9 248.9,241.3 249.2,241.7 249.4,240.5 249.7,239.7 250.1,237.7 250.4,238.4 250.8,237.8 251.1,237.0 251.5,234.5 251.8,234.6 252.2,232.8 252.4,232.7 252.6,229.8 252.9,231.0 253.1,230.2 253.3,227.8 253.5,226.8 253.7,225.8 253.9,224.8 254.2,222.3 254.4,223.9 254.6,220.7 254.9,219.6 255.3,218.4 255.6,217.8 256.0,218.4 256.3,215.2 256.8,214.4 257.3,215.1 257.8,212.7 258.3,211.2 258.8,211.9 259.6,211.0 260.4,210.0 261.2,209.7 261.8,206.9 262.3,207.9 262.9,206.4 263.3,205.6 263.8,206.8 264.2,208.9 264.6,209.9 264.9,210.3 265.2,210.9 265.5,212.7 265.8,213.0 266.1,215.3 266.4,217.1 266.7,216.2 267.0,218.4 267.2,219.9 267.5,219.2 267.8,222.1 268.0,223.4 268.2,222.8 268.5,223.9 268.8,226.1 269.0,226.2 269.2,226.8 269.5,229.3 269.8,229.8 270.1,229.6 270.3,230.3 270.6,231.5 270.9,232.8 271.1,235.2 271.4,235.7 271.7,237.0 272.0,237.7 272.2,238.7 272.5,237.5 272.8,239.7 273.1,242.0 273.3,242.9 273.6,242.0 273.8,243.5 274.1,245.1 274.3,245.4 274.6,246.9 274.8,246.6 275.1,248.7 275.3,249.9 275.6,249.5 275.8,250.9 276.1,254.2 276.6,254.6 277.0,256.0 277.5,256.0 278.0,257.5 278.4,258.6 278.9,259.5 279.4,258.1 279.8,260.7 280.3,260.5 280.9,262.5 281.5,262.2 282.1,263.8 282.8,265.7 283.4,265.7 284.0,265.5 284.6,267.0 285.2,267.6 285.9,269.8 286.7,268.7 287.4,269.5 288.1,271.1 288.9,270.4 289.6,272.5 290.3,274.2 291.1,273.7 291.8,273.8 292.8,274.6 293.8,275.2 294.8,274.4 295.8,274.7 296.8,275.0 297.8,275.8 298.8,276.4 299.8,276.4 300.8,276.7 301.8,276.5 302.8,278.2 303.8,279.3 304.8,279.0 305.8,279.2 306.8,279.8 307.7,278.8 308.7,280.6 309.7,280.2 310.7,280.8 311.7,281.0" fill="none" stroke="#5252c4" stroke-width="0.75"/>
<line x1="266.7" y1="200" x2="266.7" y2="280.5" stroke="#777" stroke-width="0.8"/>
<text x="288.4" y="208.6" font-size="7.1" font-weight="bold" text-anchor="start" fill="#c02a2a" stroke="#c02a2a" stroke-width="0.22" >62 ± 4%</text>
<text x="288.4" y="219.6" font-size="7.1" font-weight="bold" text-anchor="start" fill="#2a2a9a" stroke="#2a2a9a" stroke-width="0.22" >37 ± 2%</text>
<rect x="327.0" y="200" width="86.0" height="80.5" fill="#fff" stroke="none"/>
<polyline points="327.0,200 413.0,200 413.0,280.5" fill="none" stroke="#9a9a9a" stroke-width="0.9"/>
<line x1="324.7" y1="280.5" x2="327.0" y2="280.5" stroke="#666" stroke-width="0.6"/>
<rect x="320.4" y="277.5" width="2.6" height="4.2" rx="0.8" fill="#a5a5a5"/>
<line x1="325.7" y1="277.8" x2="327.0" y2="277.8" stroke="#666" stroke-width="0.6"/>
<line x1="325.7" y1="275.1" x2="327.0" y2="275.1" stroke="#666" stroke-width="0.6"/>
<line x1="325.7" y1="272.5" x2="327.0" y2="272.5" stroke="#666" stroke-width="0.6"/>
<line x1="325.7" y1="269.8" x2="327.0" y2="269.8" stroke="#666" stroke-width="0.6"/>
<line x1="324.7" y1="267.1" x2="327.0" y2="267.1" stroke="#666" stroke-width="0.6"/>
<rect x="320.4" y="264.1" width="2.6" height="4.2" rx="0.8" fill="#a5a5a5"/>
<line x1="325.7" y1="264.4" x2="327.0" y2="264.4" stroke="#666" stroke-width="0.6"/>
<line x1="325.7" y1="261.7" x2="327.0" y2="261.7" stroke="#666" stroke-width="0.6"/>
<line x1="325.7" y1="259.1" x2="327.0" y2="259.1" stroke="#666" stroke-width="0.6"/>
<line x1="325.7" y1="256.4" x2="327.0" y2="256.4" stroke="#666" stroke-width="0.6"/>
<line x1="324.7" y1="253.7" x2="327.0" y2="253.7" stroke="#666" stroke-width="0.6"/>
<rect x="320.4" y="250.7" width="2.6" height="4.2" rx="0.8" fill="#a5a5a5"/>
<line x1="325.7" y1="251.0" x2="327.0" y2="251.0" stroke="#666" stroke-width="0.6"/>
<line x1="325.7" y1="248.3" x2="327.0" y2="248.3" stroke="#666" stroke-width="0.6"/>
<line x1="325.7" y1="245.7" x2="327.0" y2="245.7" stroke="#666" stroke-width="0.6"/>
<line x1="325.7" y1="243.0" x2="327.0" y2="243.0" stroke="#666" stroke-width="0.6"/>
<line x1="324.7" y1="240.3" x2="327.0" y2="240.3" stroke="#666" stroke-width="0.6"/>
<rect x="320.4" y="237.3" width="2.6" height="4.2" rx="0.8" fill="#a5a5a5"/>
<line x1="325.7" y1="237.6" x2="327.0" y2="237.6" stroke="#666" stroke-width="0.6"/>
<line x1="325.7" y1="234.9" x2="327.0" y2="234.9" stroke="#666" stroke-width="0.6"/>
<line x1="325.7" y1="232.3" x2="327.0" y2="232.3" stroke="#666" stroke-width="0.6"/>
<line x1="325.7" y1="229.6" x2="327.0" y2="229.6" stroke="#666" stroke-width="0.6"/>
<line x1="324.7" y1="226.9" x2="327.0" y2="226.9" stroke="#666" stroke-width="0.6"/>
<rect x="320.4" y="223.9" width="2.6" height="4.2" rx="0.8" fill="#a5a5a5"/>
<line x1="325.7" y1="224.2" x2="327.0" y2="224.2" stroke="#666" stroke-width="0.6"/>
<line x1="325.7" y1="221.5" x2="327.0" y2="221.5" stroke="#666" stroke-width="0.6"/>
<line x1="325.7" y1="218.9" x2="327.0" y2="218.9" stroke="#666" stroke-width="0.6"/>
<line x1="325.7" y1="216.2" x2="327.0" y2="216.2" stroke="#666" stroke-width="0.6"/>
<line x1="324.7" y1="213.5" x2="327.0" y2="213.5" stroke="#666" stroke-width="0.6"/>
<rect x="320.4" y="210.5" width="2.6" height="4.2" rx="0.8" fill="#a5a5a5"/>
<line x1="325.7" y1="210.8" x2="327.0" y2="210.8" stroke="#666" stroke-width="0.6"/>
<line x1="325.7" y1="208.1" x2="327.0" y2="208.1" stroke="#666" stroke-width="0.6"/>
<line x1="325.7" y1="205.5" x2="327.0" y2="205.5" stroke="#666" stroke-width="0.6"/>
<line x1="325.7" y1="202.8" x2="327.0" y2="202.8" stroke="#666" stroke-width="0.6"/>
<line x1="324.7" y1="200.1" x2="327.0" y2="200.1" stroke="#666" stroke-width="0.6"/>
<rect x="320.4" y="197.1" width="2.6" height="4.2" rx="0.8" fill="#a5a5a5"/>
<line x1="336.3" y1="280.5" x2="336.3" y2="282.8" stroke="#666" stroke-width="0.6"/>
<line x1="341.4" y1="280.5" x2="341.4" y2="281.8" stroke="#777" stroke-width="0.5"/>
<line x1="344.4" y1="280.5" x2="344.4" y2="281.8" stroke="#777" stroke-width="0.5"/>
<line x1="346.5" y1="280.5" x2="346.5" y2="281.8" stroke="#777" stroke-width="0.5"/>
<line x1="348.2" y1="280.5" x2="348.2" y2="281.8" stroke="#777" stroke-width="0.5"/>
<line x1="349.5" y1="280.5" x2="349.5" y2="281.8" stroke="#777" stroke-width="0.5"/>
<line x1="350.7" y1="280.5" x2="350.7" y2="281.8" stroke="#777" stroke-width="0.5"/>
<line x1="351.7" y1="280.5" x2="351.7" y2="281.8" stroke="#777" stroke-width="0.5"/>
<line x1="352.5" y1="280.5" x2="352.5" y2="281.8" stroke="#777" stroke-width="0.5"/>
<rect x="335.1" y="283.1" width="2.4" height="3.8" rx="0.8" fill="#b0b0b0"/>
<line x1="353.3" y1="280.5" x2="353.3" y2="282.8" stroke="#666" stroke-width="0.6"/>
<line x1="358.4" y1="280.5" x2="358.4" y2="281.8" stroke="#777" stroke-width="0.5"/>
<line x1="361.4" y1="280.5" x2="361.4" y2="281.8" stroke="#777" stroke-width="0.5"/>
<line x1="363.5" y1="280.5" x2="363.5" y2="281.8" stroke="#777" stroke-width="0.5"/>
<line x1="365.2" y1="280.5" x2="365.2" y2="281.8" stroke="#777" stroke-width="0.5"/>
<line x1="366.5" y1="280.5" x2="366.5" y2="281.8" stroke="#777" stroke-width="0.5"/>
<line x1="367.7" y1="280.5" x2="367.7" y2="281.8" stroke="#777" stroke-width="0.5"/>
<line x1="368.7" y1="280.5" x2="368.7" y2="281.8" stroke="#777" stroke-width="0.5"/>
<line x1="369.5" y1="280.5" x2="369.5" y2="281.8" stroke="#777" stroke-width="0.5"/>
<rect x="352.1" y="283.1" width="2.4" height="3.8" rx="0.8" fill="#b0b0b0"/>
<line x1="370.3" y1="280.5" x2="370.3" y2="282.8" stroke="#666" stroke-width="0.6"/>
<line x1="375.4" y1="280.5" x2="375.4" y2="281.8" stroke="#777" stroke-width="0.5"/>
<line x1="378.4" y1="280.5" x2="378.4" y2="281.8" stroke="#777" stroke-width="0.5"/>
<line x1="380.5" y1="280.5" x2="380.5" y2="281.8" stroke="#777" stroke-width="0.5"/>
<line x1="382.2" y1="280.5" x2="382.2" y2="281.8" stroke="#777" stroke-width="0.5"/>
<line x1="383.5" y1="280.5" x2="383.5" y2="281.8" stroke="#777" stroke-width="0.5"/>
<line x1="384.7" y1="280.5" x2="384.7" y2="281.8" stroke="#777" stroke-width="0.5"/>
<line x1="385.7" y1="280.5" x2="385.7" y2="281.8" stroke="#777" stroke-width="0.5"/>
<line x1="386.5" y1="280.5" x2="386.5" y2="281.8" stroke="#777" stroke-width="0.5"/>
<rect x="369.1" y="283.1" width="2.4" height="3.8" rx="0.8" fill="#b0b0b0"/>
<line x1="387.3" y1="280.5" x2="387.3" y2="282.8" stroke="#666" stroke-width="0.6"/>
<line x1="392.4" y1="280.5" x2="392.4" y2="281.8" stroke="#777" stroke-width="0.5"/>
<line x1="395.4" y1="280.5" x2="395.4" y2="281.8" stroke="#777" stroke-width="0.5"/>
<line x1="397.5" y1="280.5" x2="397.5" y2="281.8" stroke="#777" stroke-width="0.5"/>
<line x1="399.2" y1="280.5" x2="399.2" y2="281.8" stroke="#777" stroke-width="0.5"/>
<line x1="400.5" y1="280.5" x2="400.5" y2="281.8" stroke="#777" stroke-width="0.5"/>
<line x1="401.7" y1="280.5" x2="401.7" y2="281.8" stroke="#777" stroke-width="0.5"/>
<line x1="402.7" y1="280.5" x2="402.7" y2="281.8" stroke="#777" stroke-width="0.5"/>
<line x1="403.5" y1="280.5" x2="403.5" y2="281.8" stroke="#777" stroke-width="0.5"/>
<rect x="386.1" y="283.1" width="2.4" height="3.8" rx="0.8" fill="#b0b0b0"/>
<line x1="404.3" y1="280.5" x2="404.3" y2="282.8" stroke="#666" stroke-width="0.6"/>
<line x1="409.4" y1="280.5" x2="409.4" y2="281.8" stroke="#777" stroke-width="0.5"/>
<line x1="412.4" y1="280.5" x2="412.4" y2="281.8" stroke="#777" stroke-width="0.5"/>
<rect x="403.1" y="283.1" width="2.4" height="3.8" rx="0.8" fill="#b0b0b0"/>
<polyline points="327.0,200 327.0,280.5 413.0,280.5" fill="none" stroke="#555" stroke-width="0.8"/>
<polygon points="341.9,281.0 346.0,269.5 348.5,249.6 350.2,224.8 351.5,205.0 352.6,204.1 354.3,224.8 355.9,252.9 357.6,266.1 360.1,276.1 362.6,281.0" fill="#a8a8a8" stroke="#888" stroke-width="0.5"/>
<polyline points="330.3,281.0 330.9,280.5 331.5,279.3 332.1,278.0 332.7,276.9 333.3,276.1 333.9,276.1 334.5,274.9 335.0,274.7 335.6,272.1 336.2,272.3 336.8,273.0 337.4,270.4 338.0,270.5 338.6,269.5 338.8,267.9 339.1,269.0 339.3,266.0 339.6,266.4 339.8,263.6 340.0,262.3 340.3,263.8 340.5,261.5 340.8,259.4 341.0,259.4 341.3,258.6 341.5,258.5 341.7,255.6 342.0,255.0 342.2,256.2 342.5,254.6 342.7,251.9 342.9,251.4 343.0,250.3 343.2,250.3 343.3,249.0 343.5,248.7 343.6,247.5 343.8,245.6 343.9,245.2 344.1,244.1 344.2,243.1 344.4,241.2 344.5,241.1 344.7,239.9 344.8,239.5 344.9,236.1 345.1,237.3 345.2,233.6 345.3,234.9 345.4,233.3 345.6,232.0 345.7,232.4 345.8,230.2 346.0,228.7 346.1,228.7 346.2,228.0 346.4,226.2 346.5,224.4 346.6,223.6 346.8,222.6 346.9,222.4 347.0,220.1 347.1,219.3 347.2,218.8 347.4,217.2 347.5,216.0 347.6,216.4 347.8,215.5 347.9,213.5 348.0,212.3 348.1,210.4 348.2,209.8 348.4,208.3 348.5,208.5 348.8,207.5 349.2,205.1 349.5,206.6 349.9,203.8 350.2,204.3 350.3,205.3 350.4,206.7 350.6,205.5 350.7,207.1 350.8,209.6 350.9,207.9 351.1,209.1 351.2,211.6 351.3,212.4 351.4,214.7 351.6,215.3 351.7,215.6 351.8,218.0 351.9,217.6 351.9,218.6 352.0,220.2 352.1,220.3 352.2,221.2 352.2,223.0 352.3,223.3 352.4,226.1 352.4,226.3 352.5,226.9 352.6,226.7 352.6,228.5 352.7,229.6 352.8,231.2 352.9,232.2 352.9,234.2 353.0,235.5 353.1,235.1 353.1,236.0 353.2,237.5 353.3,239.7 353.4,238.8 353.4,240.4 353.5,242.2 353.6,241.3 353.7,242.8 353.7,245.8 353.8,246.4 353.9,246.5 354.0,246.3 354.0,249.7 354.1,250.1 354.2,251.5 354.3,253.0 354.3,253.7 354.4,253.3 354.5,253.6 354.6,255.0 354.6,256.7 354.7,257.7 354.8,257.8 354.9,258.8 354.9,261.1 355.0,262.1 355.1,262.4 355.3,265.3 355.5,265.2 355.7,264.5 355.8,266.6 356.0,268.7 356.2,268.3 356.4,270.4 356.6,269.4 356.8,271.3 356.9,273.9 357.1,274.2 357.3,275.4 357.5,275.0 357.7,276.9 357.8,278.1 358.0,278.3 358.2,280.4 358.4,281.0" fill="none" stroke="#98a050" stroke-width="0.75"/>
<polyline points="328.7,281.0 329.6,280.5 330.5,281.0 331.4,279.4 332.3,278.4 333.2,276.9 334.1,276.4 335.0,277.5 335.9,275.1 336.8,274.5 337.7,274.1 338.6,274.5 339.2,274.5 339.8,273.1 340.4,272.8 341.1,269.9 341.7,268.9 342.3,270.2 342.9,268.1 343.5,268.4 343.8,266.4 344.0,264.8 344.3,264.1 344.5,262.6 344.8,263.9 345.0,261.9 345.3,260.3 345.5,259.5 345.8,258.3 346.0,256.4 346.3,257.7 346.5,255.8 346.8,255.9 347.0,253.4 347.2,252.9 347.4,250.9 347.6,249.3 347.7,250.8 347.9,249.5 348.1,247.0 348.3,247.6 348.5,246.4 348.7,243.9 348.9,243.8 349.1,243.8 349.3,241.4 349.4,241.7 349.6,238.7 349.8,238.1 350.0,238.0 350.2,235.6 350.4,234.9 350.6,235.4 350.8,233.3 350.9,233.2 351.1,230.6 351.3,229.4 351.5,228.9 351.7,227.4 351.9,228.6 352.0,225.7 352.2,225.4 352.4,223.1 352.6,223.3 353.1,221.9 353.6,220.9 354.1,219.0 354.6,218.1 355.1,219.1 356.4,218.6 357.6,219.1 358.2,218.1 358.9,217.5 359.5,216.6 360.1,215.2 360.7,216.1 361.4,214.4 362.0,213.1 362.6,213.8 363.2,211.2 363.8,210.9 364.4,211.7 365.0,208.9 365.8,210.3 366.7,212.0 367.5,212.5 368.1,211.5 368.8,212.8 369.4,214.7 370.0,214.6 370.3,217.2 370.6,216.2 370.9,219.3 371.2,219.1 371.6,219.3 371.9,221.0 372.2,221.1 372.5,223.8 372.8,223.6 373.1,226.4 373.4,226.5 373.8,226.9 374.1,227.6 374.4,229.7 374.7,229.6 375.0,232.4 375.2,231.3 375.5,233.4 375.7,234.5 376.0,234.7 376.2,237.1 376.4,237.0 376.7,238.8 376.9,239.5 377.2,239.8 377.4,241.0 377.6,241.1 377.9,242.4 378.1,245.3 378.4,244.8 378.6,246.8 378.9,246.2 379.1,248.5 379.4,248.9 379.6,250.3 379.9,250.7 380.2,251.1 380.5,252.9 380.8,253.7 381.1,254.4 381.4,257.1 381.7,257.0 382.0,258.3 382.3,260.8 382.6,261.5 382.9,262.8 383.2,263.8 383.8,262.7 384.3,264.0 384.9,264.2 385.4,267.0 386.0,267.9 386.5,267.9 387.1,269.0 387.6,270.6 388.2,271.7 389.0,271.0 389.9,273.3 390.7,272.6 391.5,274.0 392.3,273.3 393.1,273.8 394.0,276.6 394.8,276.8 395.7,277.1 396.7,275.5 397.6,275.9 398.6,276.6 399.5,277.0 400.5,277.7 401.4,278.3 402.3,277.7 403.3,278.8 404.2,280.0 405.2,279.1 406.1,281.0 407.1,280.9 408.0,281.0" fill="none" stroke="#d85656" stroke-width="0.75"/>
<polyline points="328.7,281.0 329.3,280.8 329.9,278.7 330.5,278.3 331.1,278.2 331.8,276.5 332.4,274.7 333.0,276.2 333.6,275.2 334.3,273.1 335.0,271.7 335.7,273.3 336.5,271.9 337.2,269.6 337.9,269.5 338.6,268.4 339.1,269.4 339.5,266.8 340.0,267.8 340.5,266.4 341.0,263.6 341.4,264.3 341.9,262.5 342.1,262.5 342.3,261.7 342.5,259.1 342.7,257.6 342.9,259.0 343.1,256.5 343.2,256.9 343.4,255.2 343.6,254.3 343.8,253.6 344.0,252.0 344.2,250.5 344.4,248.4 344.6,249.1 344.8,247.4 345.0,246.6 345.1,246.7 345.3,243.5 345.5,244.2 345.7,241.2 345.9,242.0 346.1,241.3 346.2,238.8 346.4,238.6 346.6,238.7 346.8,236.8 347.0,235.5 347.1,233.7 347.3,232.2 347.5,232.0 347.6,231.2 347.8,229.6 348.0,228.9 348.1,227.4 348.3,228.0 348.5,226.9 348.6,224.7 348.8,223.8 349.0,223.5 349.1,222.3 349.3,222.7 349.5,220.0 349.6,218.8 349.8,219.4 349.9,216.3 350.1,216.4 350.2,214.7 350.4,215.0 350.5,213.2 350.7,212.7 350.8,210.0 351.0,210.4 351.3,209.2 351.6,207.8 352.0,207.7 352.3,206.9 352.6,203.9 352.9,205.4 353.3,206.6 353.6,207.1 354.0,207.7 354.3,209.3 354.4,210.1 354.6,212.6 354.7,212.9 354.9,213.0 355.0,214.7 355.2,216.1 355.3,216.9 355.5,217.4 355.6,218.2 355.8,219.1 355.9,222.9 356.3,223.1 356.6,222.2 357.0,224.9 357.3,226.6 357.7,226.4 358.0,226.1 358.4,228.1 358.9,228.9 359.4,229.2 359.9,231.2 360.4,230.7 360.9,234.3 361.1,234.5 361.4,235.4 361.6,237.3 361.9,237.5 362.1,237.4 362.4,238.3 362.6,239.0 362.9,239.7 363.1,242.8 363.4,244.0 363.6,243.4 363.9,244.1 364.1,246.4 364.4,247.9 364.6,249.1 364.9,248.0 365.1,250.7 365.4,251.8 365.6,252.6 365.9,252.4 366.1,253.0 366.4,255.8 366.6,255.4 366.9,256.5 367.1,258.0 367.3,258.5 367.6,260.8 367.8,260.1 368.1,260.5 368.3,263.0 368.7,264.2 369.1,265.8 369.6,266.5 370.0,268.1 370.4,269.2 370.9,269.0 371.3,270.1 371.7,270.1 372.4,271.4 373.1,273.0 373.8,272.4 374.5,274.9 375.2,274.3 375.9,275.9 376.6,278.2 377.6,276.0 378.7,276.0 379.7,277.4 380.8,276.9 381.8,278.6 382.8,276.8 383.9,279.3 384.9,279.6 386.0,279.6 387.0,278.8 388.1,278.6 389.1,279.9 390.2,279.7 391.2,279.7 392.3,279.7 393.3,280.2 394.4,281.0 395.4,281.0 396.5,281.0" fill="none" stroke="#5252c4" stroke-width="0.75"/>
<line x1="364.7" y1="200" x2="364.7" y2="280.5" stroke="#777" stroke-width="0.8"/>
<text x="386.5" y="208.6" font-size="7.1" font-weight="bold" text-anchor="start" fill="#c02a2a" stroke="#c02a2a" stroke-width="0.22" >49 ± 2%</text>
<text x="386.5" y="219.6" font-size="7.1" font-weight="bold" text-anchor="start" fill="#2a2a9a" stroke="#2a2a9a" stroke-width="0.22" >22 ± 1%</text>
<rect x="425.4" y="200" width="86.0" height="80.5" fill="#fff" stroke="none"/>
<polyline points="425.4,200 511.4,200 511.4,280.5" fill="none" stroke="#9a9a9a" stroke-width="0.9"/>
<line x1="423.09999999999997" y1="280.5" x2="425.4" y2="280.5" stroke="#666" stroke-width="0.6"/>
<rect x="418.8" y="277.5" width="2.6" height="4.2" rx="0.8" fill="#a5a5a5"/>
<line x1="424.09999999999997" y1="277.8" x2="425.4" y2="277.8" stroke="#666" stroke-width="0.6"/>
<line x1="424.09999999999997" y1="275.1" x2="425.4" y2="275.1" stroke="#666" stroke-width="0.6"/>
<line x1="424.09999999999997" y1="272.5" x2="425.4" y2="272.5" stroke="#666" stroke-width="0.6"/>
<line x1="424.09999999999997" y1="269.8" x2="425.4" y2="269.8" stroke="#666" stroke-width="0.6"/>
<line x1="423.09999999999997" y1="267.1" x2="425.4" y2="267.1" stroke="#666" stroke-width="0.6"/>
<rect x="418.8" y="264.1" width="2.6" height="4.2" rx="0.8" fill="#a5a5a5"/>
<line x1="424.09999999999997" y1="264.4" x2="425.4" y2="264.4" stroke="#666" stroke-width="0.6"/>
<line x1="424.09999999999997" y1="261.7" x2="425.4" y2="261.7" stroke="#666" stroke-width="0.6"/>
<line x1="424.09999999999997" y1="259.1" x2="425.4" y2="259.1" stroke="#666" stroke-width="0.6"/>
<line x1="424.09999999999997" y1="256.4" x2="425.4" y2="256.4" stroke="#666" stroke-width="0.6"/>
<line x1="423.09999999999997" y1="253.7" x2="425.4" y2="253.7" stroke="#666" stroke-width="0.6"/>
<rect x="418.8" y="250.7" width="2.6" height="4.2" rx="0.8" fill="#a5a5a5"/>
<line x1="424.09999999999997" y1="251.0" x2="425.4" y2="251.0" stroke="#666" stroke-width="0.6"/>
<line x1="424.09999999999997" y1="248.3" x2="425.4" y2="248.3" stroke="#666" stroke-width="0.6"/>
<line x1="424.09999999999997" y1="245.7" x2="425.4" y2="245.7" stroke="#666" stroke-width="0.6"/>
<line x1="424.09999999999997" y1="243.0" x2="425.4" y2="243.0" stroke="#666" stroke-width="0.6"/>
<line x1="423.09999999999997" y1="240.3" x2="425.4" y2="240.3" stroke="#666" stroke-width="0.6"/>
<rect x="418.8" y="237.3" width="2.6" height="4.2" rx="0.8" fill="#a5a5a5"/>
<line x1="424.09999999999997" y1="237.6" x2="425.4" y2="237.6" stroke="#666" stroke-width="0.6"/>
<line x1="424.09999999999997" y1="234.9" x2="425.4" y2="234.9" stroke="#666" stroke-width="0.6"/>
<line x1="424.09999999999997" y1="232.3" x2="425.4" y2="232.3" stroke="#666" stroke-width="0.6"/>
<line x1="424.09999999999997" y1="229.6" x2="425.4" y2="229.6" stroke="#666" stroke-width="0.6"/>
<line x1="423.09999999999997" y1="226.9" x2="425.4" y2="226.9" stroke="#666" stroke-width="0.6"/>
<rect x="418.8" y="223.9" width="2.6" height="4.2" rx="0.8" fill="#a5a5a5"/>
<line x1="424.09999999999997" y1="224.2" x2="425.4" y2="224.2" stroke="#666" stroke-width="0.6"/>
<line x1="424.09999999999997" y1="221.5" x2="425.4" y2="221.5" stroke="#666" stroke-width="0.6"/>
<line x1="424.09999999999997" y1="218.9" x2="425.4" y2="218.9" stroke="#666" stroke-width="0.6"/>
<line x1="424.09999999999997" y1="216.2" x2="425.4" y2="216.2" stroke="#666" stroke-width="0.6"/>
<line x1="423.09999999999997" y1="213.5" x2="425.4" y2="213.5" stroke="#666" stroke-width="0.6"/>
<rect x="418.8" y="210.5" width="2.6" height="4.2" rx="0.8" fill="#a5a5a5"/>
<line x1="424.09999999999997" y1="210.8" x2="425.4" y2="210.8" stroke="#666" stroke-width="0.6"/>
<line x1="424.09999999999997" y1="208.1" x2="425.4" y2="208.1" stroke="#666" stroke-width="0.6"/>
<line x1="424.09999999999997" y1="205.5" x2="425.4" y2="205.5" stroke="#666" stroke-width="0.6"/>
<line x1="424.09999999999997" y1="202.8" x2="425.4" y2="202.8" stroke="#666" stroke-width="0.6"/>
<line x1="423.09999999999997" y1="200.1" x2="425.4" y2="200.1" stroke="#666" stroke-width="0.6"/>
<rect x="418.8" y="197.1" width="2.6" height="4.2" rx="0.8" fill="#a5a5a5"/>
<line x1="434.7" y1="280.5" x2="434.7" y2="282.8" stroke="#666" stroke-width="0.6"/>
<line x1="439.8" y1="280.5" x2="439.8" y2="281.8" stroke="#777" stroke-width="0.5"/>
<line x1="442.8" y1="280.5" x2="442.8" y2="281.8" stroke="#777" stroke-width="0.5"/>
<line x1="444.9" y1="280.5" x2="444.9" y2="281.8" stroke="#777" stroke-width="0.5"/>
<line x1="446.6" y1="280.5" x2="446.6" y2="281.8" stroke="#777" stroke-width="0.5"/>
<line x1="447.9" y1="280.5" x2="447.9" y2="281.8" stroke="#777" stroke-width="0.5"/>
<line x1="449.1" y1="280.5" x2="449.1" y2="281.8" stroke="#777" stroke-width="0.5"/>
<line x1="450.1" y1="280.5" x2="450.1" y2="281.8" stroke="#777" stroke-width="0.5"/>
<line x1="450.9" y1="280.5" x2="450.9" y2="281.8" stroke="#777" stroke-width="0.5"/>
<rect x="433.5" y="283.1" width="2.4" height="3.8" rx="0.8" fill="#b0b0b0"/>
<line x1="451.7" y1="280.5" x2="451.7" y2="282.8" stroke="#666" stroke-width="0.6"/>
<line x1="456.8" y1="280.5" x2="456.8" y2="281.8" stroke="#777" stroke-width="0.5"/>
<line x1="459.8" y1="280.5" x2="459.8" y2="281.8" stroke="#777" stroke-width="0.5"/>
<line x1="461.9" y1="280.5" x2="461.9" y2="281.8" stroke="#777" stroke-width="0.5"/>
<line x1="463.6" y1="280.5" x2="463.6" y2="281.8" stroke="#777" stroke-width="0.5"/>
<line x1="464.9" y1="280.5" x2="464.9" y2="281.8" stroke="#777" stroke-width="0.5"/>
<line x1="466.1" y1="280.5" x2="466.1" y2="281.8" stroke="#777" stroke-width="0.5"/>
<line x1="467.1" y1="280.5" x2="467.1" y2="281.8" stroke="#777" stroke-width="0.5"/>
<line x1="467.9" y1="280.5" x2="467.9" y2="281.8" stroke="#777" stroke-width="0.5"/>
<rect x="450.5" y="283.1" width="2.4" height="3.8" rx="0.8" fill="#b0b0b0"/>
<line x1="468.7" y1="280.5" x2="468.7" y2="282.8" stroke="#666" stroke-width="0.6"/>
<line x1="473.8" y1="280.5" x2="473.8" y2="281.8" stroke="#777" stroke-width="0.5"/>
<line x1="476.8" y1="280.5" x2="476.8" y2="281.8" stroke="#777" stroke-width="0.5"/>
<line x1="478.9" y1="280.5" x2="478.9" y2="281.8" stroke="#777" stroke-width="0.5"/>
<line x1="480.6" y1="280.5" x2="480.6" y2="281.8" stroke="#777" stroke-width="0.5"/>
<line x1="481.9" y1="280.5" x2="481.9" y2="281.8" stroke="#777" stroke-width="0.5"/>
<line x1="483.1" y1="280.5" x2="483.1" y2="281.8" stroke="#777" stroke-width="0.5"/>
<line x1="484.1" y1="280.5" x2="484.1" y2="281.8" stroke="#777" stroke-width="0.5"/>
<line x1="484.9" y1="280.5" x2="484.9" y2="281.8" stroke="#777" stroke-width="0.5"/>
<rect x="467.5" y="283.1" width="2.4" height="3.8" rx="0.8" fill="#b0b0b0"/>
<line x1="485.7" y1="280.5" x2="485.7" y2="282.8" stroke="#666" stroke-width="0.6"/>
<line x1="490.8" y1="280.5" x2="490.8" y2="281.8" stroke="#777" stroke-width="0.5"/>
<line x1="493.8" y1="280.5" x2="493.8" y2="281.8" stroke="#777" stroke-width="0.5"/>
<line x1="495.9" y1="280.5" x2="495.9" y2="281.8" stroke="#777" stroke-width="0.5"/>
<line x1="497.6" y1="280.5" x2="497.6" y2="281.8" stroke="#777" stroke-width="0.5"/>
<line x1="498.9" y1="280.5" x2="498.9" y2="281.8" stroke="#777" stroke-width="0.5"/>
<line x1="500.1" y1="280.5" x2="500.1" y2="281.8" stroke="#777" stroke-width="0.5"/>
<line x1="501.1" y1="280.5" x2="501.1" y2="281.8" stroke="#777" stroke-width="0.5"/>
<line x1="501.9" y1="280.5" x2="501.9" y2="281.8" stroke="#777" stroke-width="0.5"/>
<rect x="484.5" y="283.1" width="2.4" height="3.8" rx="0.8" fill="#b0b0b0"/>
<line x1="502.7" y1="280.5" x2="502.7" y2="282.8" stroke="#666" stroke-width="0.6"/>
<line x1="507.8" y1="280.5" x2="507.8" y2="281.8" stroke="#777" stroke-width="0.5"/>
<line x1="510.8" y1="280.5" x2="510.8" y2="281.8" stroke="#777" stroke-width="0.5"/>
<rect x="501.5" y="283.1" width="2.4" height="3.8" rx="0.8" fill="#b0b0b0"/>
<polyline points="425.4,200 425.4,280.5 511.4,280.5" fill="none" stroke="#555" stroke-width="0.8"/>
<polygon points="439.9,281.0 444.0,269.5 445.7,249.6 447.3,224.8 449.0,205.0 450.6,203.3 452.3,224.8 453.9,252.9 455.6,266.1 458.1,276.1 460.6,281.0" fill="#a8a8a8" stroke="#888" stroke-width="0.5"/>
<polyline points="428.3,281.0 428.9,281.0 429.5,278.4 430.1,277.9 430.7,277.5 431.3,277.1 431.9,275.6 432.5,274.3 433.0,273.2 433.6,273.1 434.2,272.7 434.8,273.4 435.4,272.4 436.0,271.4 436.6,270.9 436.8,269.9 437.1,267.9 437.3,267.5 437.6,264.3 437.8,265.1 438.0,264.0 438.3,262.1 438.5,261.9 438.8,262.1 439.0,259.7 439.3,259.2 439.5,257.2 439.7,256.3 440.0,257.0 440.2,253.4 440.5,252.9 440.7,253.4 440.9,251.7 441.0,249.5 441.2,250.2 441.3,248.3 441.5,247.9 441.6,246.3 441.8,245.6 441.9,244.7 442.1,243.1 442.2,241.2 442.4,240.3 442.5,241.4 442.6,239.4 442.7,237.0 442.8,238.2 443.0,235.3 443.1,233.8 443.2,234.1 443.3,232.2 443.4,231.9 443.5,231.0 443.6,229.0 443.7,229.0 443.8,226.6 443.9,226.8 444.1,225.9 444.2,223.4 444.3,223.3 444.4,221.3 444.5,221.3 444.6,221.6 444.8,219.7 444.9,219.2 445.0,218.3 445.2,215.4 445.3,217.0 445.4,215.2 445.6,212.4 445.7,213.6 445.8,211.2 446.0,209.6 446.1,211.0 446.2,208.8 446.4,208.4 446.5,205.5 447.1,206.3 447.6,203.1 448.2,202.5 448.3,203.9 448.4,203.9 448.6,206.6 448.7,206.5 448.8,207.8 448.9,210.0 449.1,210.2 449.2,212.6 449.3,212.8 449.4,214.6 449.6,214.7 449.7,216.7 449.8,217.6 449.9,216.5 449.9,219.3 450.0,219.1 450.1,221.4 450.2,222.2 450.2,223.7 450.3,222.6 450.4,224.4 450.4,226.5 450.5,228.2 450.6,228.5 450.6,227.5 450.7,230.2 450.8,229.8 450.9,232.1 450.9,233.9 451.0,232.9 451.1,236.4 451.1,236.7 451.2,236.4 451.3,237.3 451.4,239.1 451.4,241.3 451.5,241.5 451.6,241.2 451.7,241.9 451.7,243.2 451.8,246.3 451.9,245.5 452.0,247.6 452.0,247.8 452.1,250.1 452.2,250.2 452.3,250.5 452.3,253.7 452.4,253.7 452.5,255.2 452.6,256.6 452.6,258.0 452.7,256.2 452.8,258.2 452.9,258.7 452.9,260.8 453.0,262.9 453.1,263.7 453.3,262.4 453.5,263.9 453.7,266.8 453.8,267.4 454.0,267.5 454.2,268.8 454.4,268.9 454.6,271.9 454.8,271.6 454.9,274.0 455.1,274.3 455.3,273.7 455.5,275.4 455.7,276.1 455.8,279.1 456.0,279.2 456.2,278.6 456.4,281.0" fill="none" stroke="#98a050" stroke-width="0.75"/>
<polyline points="426.7,281.0 427.6,279.5 428.5,279.4 429.4,279.1 430.3,278.8 431.2,277.7 432.1,277.0 433.0,275.4 433.9,276.4 434.8,275.1 435.7,273.7 436.6,274.3 437.1,274.8 437.7,271.3 438.2,270.6 438.8,271.2 439.3,269.2 439.9,268.2 440.4,267.9 441.0,266.4 441.5,266.3 441.7,265.2 441.9,265.3 442.1,264.4 442.3,260.7 442.5,261.2 442.7,260.8 442.8,260.0 443.0,258.7 443.2,257.3 443.4,256.3 443.6,254.5 443.8,253.3 444.0,253.7 444.1,252.9 444.3,252.0 444.4,250.3 444.5,248.2 444.7,248.4 444.8,247.3 444.9,245.6 445.1,244.9 445.2,243.1 445.3,242.6 445.4,241.2 445.6,239.2 445.7,238.9 445.8,237.8 446.0,238.6 446.1,236.2 446.2,234.8 446.4,233.4 446.5,232.4 446.7,231.6 446.8,230.0 447.0,228.6 447.1,230.0 447.3,227.8 447.4,226.7 447.6,226.0 447.8,224.2 447.9,222.8 448.1,221.5 448.2,221.1 448.4,220.1 448.5,220.2 448.7,218.7 448.8,218.8 449.0,216.1 449.2,216.7 449.4,214.8 449.6,212.4 449.8,211.6 450.1,211.8 450.3,211.9 450.5,209.2 450.7,209.3 450.9,207.4 451.1,207.6 451.4,206.5 451.8,208.8 452.1,211.0 452.4,210.4 452.8,211.4 453.1,211.9 453.4,213.3 453.7,214.6 454.0,216.9 454.4,216.6 454.7,218.1 455.0,218.6 455.3,220.8 455.6,222.5 456.0,222.9 456.3,222.5 456.7,225.0 457.0,226.6 457.4,226.5 457.7,226.0 458.1,229.0 458.7,230.0 459.4,229.3 460.0,229.6 460.6,230.5 461.4,232.3 462.2,234.1 463.1,234.3 463.9,235.9 464.2,234.8 464.6,236.1 464.9,238.2 465.3,238.9 465.6,239.1 466.0,240.9 466.3,240.8 466.6,241.1 466.8,243.1 467.1,243.0 467.3,245.7 467.6,245.8 467.8,247.3 468.1,248.6 468.3,248.6 468.6,250.2 468.8,249.9 469.1,253.5 469.3,253.5 469.6,255.6 469.8,254.0 470.1,256.6 470.3,257.9 470.6,257.8 470.8,258.1 471.1,259.2 471.3,260.2 471.6,262.9 472.0,262.0 472.3,265.0 472.6,264.9 473.0,266.3 473.3,267.4 473.6,268.3 473.9,269.6 474.3,270.4 474.6,270.6 475.3,272.6 476.0,272.1 476.7,274.2 477.5,275.2 478.2,276.0 478.9,275.5 479.6,277.7 480.6,278.4 481.7,277.2 482.7,276.9 483.7,277.8 484.7,279.2 485.8,277.1 486.8,277.0 487.8,278.5 488.8,279.3 489.9,280.0 490.9,279.1 492.0,281.0 493.0,279.3 494.0,281.0 495.1,279.6 496.1,281.0" fill="none" stroke="#d85656" stroke-width="0.75"/>
<polyline points="426.7,281.0 427.4,278.8 428.1,278.3 428.8,277.3 429.5,277.7 430.2,277.0 430.9,275.1 431.6,276.4 432.3,274.0 433.0,272.6 433.7,271.9 434.5,272.6 435.2,272.3 435.9,269.4 436.6,268.2 437.1,269.3 437.6,266.8 438.1,267.9 438.6,265.5 439.1,264.9 439.3,263.0 439.5,263.2 439.8,261.2 440.0,259.8 440.2,260.4 440.4,257.1 440.6,257.8 440.8,254.8 441.1,255.4 441.3,253.7 441.5,253.9 441.8,250.6 442.1,251.0 442.4,249.6 442.8,250.0 443.1,249.0 443.4,247.1 443.7,245.0 444.0,244.0 444.1,243.0 444.2,242.5 444.4,241.0 444.5,239.9 444.6,240.5 444.8,239.1 444.9,237.2 445.0,238.1 445.1,235.0 445.2,234.9 445.4,232.8 445.5,233.8 445.6,232.8 445.8,230.1 445.9,230.5 446.0,229.7 446.1,227.2 446.2,226.3 446.4,225.8 446.5,225.9 446.7,222.9 446.8,223.3 447.0,222.1 447.2,220.7 447.3,220.1 447.5,219.9 447.7,217.0 447.8,217.9 448.0,215.5 448.2,215.7 448.3,214.9 448.5,212.0 448.7,212.9 448.8,212.3 449.0,209.3 449.3,207.6 449.5,206.9 449.8,208.3 450.1,204.7 450.3,206.2 450.6,203.1 450.8,205.8 451.1,205.1 451.3,206.4 451.6,208.9 451.8,208.3 452.1,210.1 452.3,212.8 452.4,213.2 452.5,214.7 452.7,216.0 452.8,214.4 452.9,215.9 453.0,218.5 453.2,219.2 453.3,218.4 453.4,220.8 453.5,221.0 453.7,222.6 453.8,222.7 453.9,223.5 454.1,227.2 454.2,226.3 454.4,228.8 454.6,227.7 454.7,229.7 454.9,229.7 455.1,231.6 455.2,231.8 455.4,234.3 455.6,233.7 455.7,236.4 455.9,236.7 456.1,236.6 456.2,238.3 456.4,239.7 456.9,241.9 457.4,241.3 457.9,241.9 458.4,245.0 458.9,245.8 459.3,246.3 459.6,246.0 460.0,246.6 460.3,247.8 460.7,248.2 461.0,249.1 461.4,251.3 461.7,252.1 462.0,253.5 462.3,254.0 462.6,254.0 463.0,257.0 463.3,257.9 463.6,258.6 463.9,259.6 464.2,261.1 464.5,262.9 464.8,263.7 465.1,264.3 465.4,264.4 465.7,265.2 466.0,266.5 466.3,269.1 466.8,268.4 467.3,269.4 467.8,270.4 468.2,270.6 468.7,273.9 469.2,272.1 469.7,274.7 470.7,276.3 471.7,275.0 472.6,276.7 473.6,276.7 474.6,277.0 475.6,277.3 476.7,277.5 477.7,279.9 478.8,280.1 479.8,280.9 480.8,278.9 481.9,281.0 482.9,281.0" fill="none" stroke="#5252c4" stroke-width="0.75"/>
<line x1="463.0" y1="200" x2="463.0" y2="280.5" stroke="#777" stroke-width="0.8"/>
<text x="484.9" y="208.6" font-size="7.1" font-weight="bold" text-anchor="start" fill="#c02a2a" stroke="#c02a2a" stroke-width="0.22" >27 ± 2%</text>
<text x="484.9" y="219.6" font-size="7.1" font-weight="bold" text-anchor="start" fill="#2a2a9a" stroke="#2a2a9a" stroke-width="0.22" >17 ± 4%</text>
<line x1="46" y1="327.3" x2="60.5" y2="327.3" stroke="#6b7a38" stroke-width="2.2"/>
<rect x="46.5" y="338.3" width="13.8" height="5" fill="#b5b5b5" stroke="#999" stroke-width="0.8"/>
<line x1="46.2" y1="353.3" x2="60.5" y2="353.3" stroke="#cc1515" stroke-width="2.2"/>
<line x1="46.2" y1="366.9" x2="60.5" y2="366.9" stroke="#1414ac" stroke-width="2.2"/>
<text x="66.3" y="330.8" font-size="8.7" font-weight="bold" text-anchor="start" fill="#111" stroke="#111" stroke-width="0.22" >Non-stained MoDCs</text>
<text x="66.3" y="344" font-size="8.7" font-weight="bold" text-anchor="start" fill="#111" stroke="#111" stroke-width="0.22" >Negative control with Goat F(ab&#8217;)<tspan font-size="5.5" dy="2">2</tspan><tspan dy="-2"> Fragment anti-Human IgG (Fc&#947;)-PE</tspan></text>
<text x="66.3" y="357" font-size="8.7" font-weight="bold" text-anchor="start" fill="#111" stroke="#111" stroke-width="0.22" >Binding of antibodies</text>
<text x="66.3" y="370.2" font-size="8.7" font-weight="bold" text-anchor="start" fill="#111" stroke="#111" stroke-width="0.22" >Binding of antibodies in the presence of anti-CD16/32/64</text>
<line x1="27" y1="614.5" x2="27" y2="419.8" stroke="#111" stroke-width="1.2"/>
<polyline points="23.8,423.8 27,419.3 30.2,423.8" fill="none" stroke="#111" stroke-width="1.2"/>
<line x1="27" y1="614.5" x2="513.5" y2="614.5" stroke="#111" stroke-width="1.2"/>
<polyline points="509.5,611.3 514,614.5 509.5,617.7" fill="none" stroke="#111" stroke-width="1.2"/>
<line x1="296.5" y1="614.5" x2="296.5" y2="419.5" stroke="#111" stroke-width="1.2"/>
<polyline points="293.3,423.5 296.5,419 299.7,423.5" fill="none" stroke="#111" stroke-width="1.2"/>
<text x="38.5" y="401.8" font-size="14" font-weight="bold" text-anchor="start" fill="#111" stroke="#111" stroke-width="0.22" >C</text>
<text x="302.5" y="403.5" font-size="14" font-weight="bold" text-anchor="start" fill="#111" stroke="#111" stroke-width="0.22" >D</text>
<text x="77.3" y="400.8" font-size="8.6" font-weight="bold" text-anchor="start" fill="#111" stroke="#111" stroke-width="0.22" >Pearson r = 0.9263</text>
<text x="77.3" y="410.6" font-size="8.6" font-weight="bold" text-anchor="start" fill="#111" stroke="#111" stroke-width="0.22" ><tspan font-style="italic">p</tspan> = 0.0001</text>
<text x="77.3" y="420.6" font-size="8.6" font-weight="bold" text-anchor="start" fill="#111" stroke="#111" stroke-width="0.22" >R<tspan font-size="5.5" dy="-3">2</tspan><tspan dy="3"> = 0.8580</tspan></text>
<text x="339.5" y="400.6" font-size="8.6" font-weight="bold" text-anchor="start" fill="#111" stroke="#111" stroke-width="0.22" >Pearson r = 0.8267</text>
<text x="339.5" y="410.5" font-size="8.6" font-weight="bold" text-anchor="start" fill="#111" stroke="#111" stroke-width="0.22" ><tspan font-style="italic">p</tspan> = 0.0032</text>
<text x="339.5" y="420.5" font-size="8.6" font-weight="bold" text-anchor="start" fill="#111" stroke="#111" stroke-width="0.22" >R<tspan font-size="5.5" dy="-3">2</tspan><tspan dy="3"> = 0.6834</tspan></text>
<text transform="translate(18,505) rotate(-90)" x="0" y="0" font-size="10" font-weight="bold" text-anchor="middle" fill="#111">Binding capacity of HIV-1 antibodies on MoDCs</text>
<text transform="translate(276.2,513.4) rotate(-90)" x="0" y="0" font-size="10" font-weight="bold" text-anchor="middle" fill="#111">Binding capacity of HIV-1 antibodies</text>
<text transform="translate(288.8,511.6) rotate(-90)" x="0" y="0" font-size="10" font-weight="bold" text-anchor="middle" fill="#111">to the Fc&#947;Rs on MoDCs</text>
<text x="178.75" y="635" font-size="10" font-weight="bold" text-anchor="start" fill="#111" stroke="#111" stroke-width="0.22" >CD83<tspan font-size="6.5" dy="-3.5">+</tspan><tspan dy="3.5"> DC-SIGN</tspan><tspan font-size="6.5" dy="-3.5">+</tspan><tspan dy="3.5"> MoDCs (Fold Increase)</tspan></text>
<line x1="55.9" y1="433.13" x2="55.9" y2="592.5999999999999" stroke="#222" stroke-width="1"/>
<line x1="55.9" y1="589.8" x2="245.70000000000002" y2="589.8" stroke="#222" stroke-width="1"/>
<line x1="53.1" y1="589.80" x2="55.9" y2="589.80" stroke="#222" stroke-width="1"/>
<text x="52.1" y="593.9" font-size="10.4" font-weight="bold" text-anchor="end" fill="#111" stroke="#111" stroke-width="0.22" >0</text>
<line x1="53.1" y1="558.47" x2="55.9" y2="558.47" stroke="#222" stroke-width="1"/>
<text x="52.1" y="562.566" font-size="10.4" font-weight="bold" text-anchor="end" fill="#111" stroke="#111" stroke-width="0.22" >20</text>
<line x1="53.1" y1="527.13" x2="55.9" y2="527.13" stroke="#222" stroke-width="1"/>
<text x="52.1" y="531.232" font-size="10.4" font-weight="bold" text-anchor="end" fill="#111" stroke="#111" stroke-width="0.22" >40</text>
<line x1="53.1" y1="495.80" x2="55.9" y2="495.80" stroke="#222" stroke-width="1"/>
<text x="52.1" y="499.89799999999997" font-size="10.4" font-weight="bold" text-anchor="end" fill="#111" stroke="#111" stroke-width="0.22" >60</text>
<line x1="53.1" y1="464.46" x2="55.9" y2="464.46" stroke="#222" stroke-width="1"/>
<text x="52.1" y="468.56399999999996" font-size="10.4" font-weight="bold" text-anchor="end" fill="#111" stroke="#111" stroke-width="0.22" >80</text>
<line x1="53.1" y1="433.13" x2="55.9" y2="433.13" stroke="#222" stroke-width="1"/>
<text x="52.1" y="437.23" font-size="10.4" font-weight="bold" text-anchor="end" fill="#111" stroke="#111" stroke-width="0.22" >100</text>
<line x1="55.90" y1="589.8" x2="55.90" y2="592.8" stroke="#222" stroke-width="0.9"/>
<line x1="60.64" y1="589.8" x2="60.64" y2="591.8" stroke="#222" stroke-width="0.9"/>
<line x1="65.39" y1="589.8" x2="65.39" y2="591.8" stroke="#222" stroke-width="0.9"/>
<line x1="70.14" y1="589.8" x2="70.14" y2="591.8" stroke="#222" stroke-width="0.9"/>
<line x1="74.88" y1="589.8" x2="74.88" y2="591.8" stroke="#222" stroke-width="0.9"/>
<line x1="79.62" y1="589.8" x2="79.62" y2="591.8" stroke="#222" stroke-width="0.9"/>
<line x1="84.37" y1="589.8" x2="84.37" y2="591.8" stroke="#222" stroke-width="0.9"/>
<line x1="89.12" y1="589.8" x2="89.12" y2="591.8" stroke="#222" stroke-width="0.9"/>
<line x1="93.86" y1="589.8" x2="93.86" y2="591.8" stroke="#222" stroke-width="0.9"/>
<line x1="98.60" y1="589.8" x2="98.60" y2="591.8" stroke="#222" stroke-width="0.9"/>
<line x1="103.35" y1="589.8" x2="103.35" y2="592.8" stroke="#222" stroke-width="0.9"/>
<line x1="108.09" y1="589.8" x2="108.09" y2="591.8" stroke="#222" stroke-width="0.9"/>
<line x1="112.84" y1="589.8" x2="112.84" y2="591.8" stroke="#222" stroke-width="0.9"/>
<line x1="117.59" y1="589.8" x2="117.59" y2="591.8" stroke="#222" stroke-width="0.9"/>
<line x1="122.33" y1="589.8" x2="122.33" y2="591.8" stroke="#222" stroke-width="0.9"/>
<line x1="127.07" y1="589.8" x2="127.07" y2="591.8" stroke="#222" stroke-width="0.9"/>
<line x1="131.82" y1="589.8" x2="131.82" y2="591.8" stroke="#222" stroke-width="0.9"/>
<line x1="136.56" y1="589.8" x2="136.56" y2="591.8" stroke="#222" stroke-width="0.9"/>
<line x1="141.31" y1="589.8" x2="141.31" y2="591.8" stroke="#222" stroke-width="0.9"/>
<line x1="146.06" y1="589.8" x2="146.06" y2="591.8" stroke="#222" stroke-width="0.9"/>
<line x1="150.80" y1="589.8" x2="150.80" y2="592.8" stroke="#222" stroke-width="0.9"/>
<line x1="155.55" y1="589.8" x2="155.55" y2="591.8" stroke="#222" stroke-width="0.9"/>
<line x1="160.29" y1="589.8" x2="160.29" y2="591.8" stroke="#222" stroke-width="0.9"/>
<line x1="165.04" y1="589.8" x2="165.04" y2="591.8" stroke="#222" stroke-width="0.9"/>
<line x1="169.78" y1="589.8" x2="169.78" y2="591.8" stroke="#222" stroke-width="0.9"/>
<line x1="174.53" y1="589.8" x2="174.53" y2="591.8" stroke="#222" stroke-width="0.9"/>
<line x1="179.27" y1="589.8" x2="179.27" y2="591.8" stroke="#222" stroke-width="0.9"/>
<line x1="184.02" y1="589.8" x2="184.02" y2="591.8" stroke="#222" stroke-width="0.9"/>
<line x1="188.76" y1="589.8" x2="188.76" y2="591.8" stroke="#222" stroke-width="0.9"/>
<line x1="193.51" y1="589.8" x2="193.51" y2="591.8" stroke="#222" stroke-width="0.9"/>
<line x1="198.25" y1="589.8" x2="198.25" y2="592.8" stroke="#222" stroke-width="0.9"/>
<line x1="203.00" y1="589.8" x2="203.00" y2="591.8" stroke="#222" stroke-width="0.9"/>
<line x1="207.74" y1="589.8" x2="207.74" y2="591.8" stroke="#222" stroke-width="0.9"/>
<line x1="212.49" y1="589.8" x2="212.49" y2="591.8" stroke="#222" stroke-width="0.9"/>
<line x1="217.23" y1="589.8" x2="217.23" y2="591.8" stroke="#222" stroke-width="0.9"/>
<line x1="221.97" y1="589.8" x2="221.97" y2="591.8" stroke="#222" stroke-width="0.9"/>
<line x1="226.72" y1="589.8" x2="226.72" y2="591.8" stroke="#222" stroke-width="0.9"/>
<line x1="231.47" y1="589.8" x2="231.47" y2="591.8" stroke="#222" stroke-width="0.9"/>
<line x1="236.21" y1="589.8" x2="236.21" y2="591.8" stroke="#222" stroke-width="0.9"/>
<line x1="240.96" y1="589.8" x2="240.96" y2="591.8" stroke="#222" stroke-width="0.9"/>
<line x1="245.70" y1="589.8" x2="245.70" y2="592.8" stroke="#222" stroke-width="0.9"/>
<text x="55.9" y="606.0999999999999" font-size="10.4" font-weight="bold" text-anchor="middle" fill="#111" stroke="#111" stroke-width="0.22" >0</text>
<text x="103.35" y="606.0999999999999" font-size="10.4" font-weight="bold" text-anchor="middle" fill="#111" stroke="#111" stroke-width="0.22" >1</text>
<text x="150.8" y="606.0999999999999" font-size="10.4" font-weight="bold" text-anchor="middle" fill="#111" stroke="#111" stroke-width="0.22" >2</text>
<text x="198.25000000000003" y="606.0999999999999" font-size="10.4" font-weight="bold" text-anchor="middle" fill="#111" stroke="#111" stroke-width="0.22" >3</text>
<text x="245.70000000000002" y="606.0999999999999" font-size="10.4" font-weight="bold" text-anchor="middle" fill="#111" stroke="#111" stroke-width="0.22" >4</text>
<line x1="317.9" y1="433.3" x2="317.9" y2="592.4" stroke="#222" stroke-width="1"/>
<line x1="317.9" y1="589.6" x2="508.7" y2="589.6" stroke="#222" stroke-width="1"/>
<line x1="315.09999999999997" y1="589.60" x2="317.9" y2="589.60" stroke="#222" stroke-width="1"/>
<text x="314.09999999999997" y="593.7" font-size="10.4" font-weight="bold" text-anchor="end" fill="#111" stroke="#111" stroke-width="0.22" >0</text>
<line x1="315.09999999999997" y1="563.55" x2="317.9" y2="563.55" stroke="#222" stroke-width="1"/>
<text x="314.09999999999997" y="567.6500000000001" font-size="10.4" font-weight="bold" text-anchor="end" fill="#111" stroke="#111" stroke-width="0.22" >5</text>
<line x1="315.09999999999997" y1="537.50" x2="317.9" y2="537.50" stroke="#222" stroke-width="1"/>
<text x="314.09999999999997" y="541.6" font-size="10.4" font-weight="bold" text-anchor="end" fill="#111" stroke="#111" stroke-width="0.22" >10</text>
<line x1="315.09999999999997" y1="511.45" x2="317.9" y2="511.45" stroke="#222" stroke-width="1"/>
<text x="314.09999999999997" y="515.5500000000001" font-size="10.4" font-weight="bold" text-anchor="end" fill="#111" stroke="#111" stroke-width="0.22" >15</text>
<line x1="315.09999999999997" y1="485.40" x2="317.9" y2="485.40" stroke="#222" stroke-width="1"/>
<text x="314.09999999999997" y="489.50000000000006" font-size="10.4" font-weight="bold" text-anchor="end" fill="#111" stroke="#111" stroke-width="0.22" >20</text>
<line x1="315.09999999999997" y1="459.35" x2="317.9" y2="459.35" stroke="#222" stroke-width="1"/>
<text x="314.09999999999997" y="463.45000000000005" font-size="10.4" font-weight="bold" text-anchor="end" fill="#111" stroke="#111" stroke-width="0.22" >25</text>
<line x1="315.09999999999997" y1="433.30" x2="317.9" y2="433.30" stroke="#222" stroke-width="1"/>
<text x="314.09999999999997" y="437.40000000000003" font-size="10.4" font-weight="bold" text-anchor="end" fill="#111" stroke="#111" stroke-width="0.22" >30</text>
<line x1="317.90" y1="589.6" x2="317.90" y2="592.6" stroke="#222" stroke-width="0.9"/>
<line x1="322.67" y1="589.6" x2="322.67" y2="591.6" stroke="#222" stroke-width="0.9"/>
<line x1="327.44" y1="589.6" x2="327.44" y2="591.6" stroke="#222" stroke-width="0.9"/>
<line x1="332.21" y1="589.6" x2="332.21" y2="591.6" stroke="#222" stroke-width="0.9"/>
<line x1="336.98" y1="589.6" x2="336.98" y2="591.6" stroke="#222" stroke-width="0.9"/>
<line x1="341.75" y1="589.6" x2="341.75" y2="591.6" stroke="#222" stroke-width="0.9"/>
<line x1="346.52" y1="589.6" x2="346.52" y2="591.6" stroke="#222" stroke-width="0.9"/>
<line x1="351.29" y1="589.6" x2="351.29" y2="591.6" stroke="#222" stroke-width="0.9"/>
<line x1="356.06" y1="589.6" x2="356.06" y2="591.6" stroke="#222" stroke-width="0.9"/>
<line x1="360.83" y1="589.6" x2="360.83" y2="591.6" stroke="#222" stroke-width="0.9"/>
<line x1="365.60" y1="589.6" x2="365.60" y2="592.6" stroke="#222" stroke-width="0.9"/>
<line x1="370.37" y1="589.6" x2="370.37" y2="591.6" stroke="#222" stroke-width="0.9"/>
<line x1="375.14" y1="589.6" x2="375.14" y2="591.6" stroke="#222" stroke-width="0.9"/>
<line x1="379.91" y1="589.6" x2="379.91" y2="591.6" stroke="#222" stroke-width="0.9"/>
<line x1="384.68" y1="589.6" x2="384.68" y2="591.6" stroke="#222" stroke-width="0.9"/>
<line x1="389.45" y1="589.6" x2="389.45" y2="591.6" stroke="#222" stroke-width="0.9"/>
<line x1="394.22" y1="589.6" x2="394.22" y2="591.6" stroke="#222" stroke-width="0.9"/>
<line x1="398.99" y1="589.6" x2="398.99" y2="591.6" stroke="#222" stroke-width="0.9"/>
<line x1="403.76" y1="589.6" x2="403.76" y2="591.6" stroke="#222" stroke-width="0.9"/>
<line x1="408.53" y1="589.6" x2="408.53" y2="591.6" stroke="#222" stroke-width="0.9"/>
<line x1="413.30" y1="589.6" x2="413.30" y2="592.6" stroke="#222" stroke-width="0.9"/>
<line x1="418.07" y1="589.6" x2="418.07" y2="591.6" stroke="#222" stroke-width="0.9"/>
<line x1="422.84" y1="589.6" x2="422.84" y2="591.6" stroke="#222" stroke-width="0.9"/>
<line x1="427.61" y1="589.6" x2="427.61" y2="591.6" stroke="#222" stroke-width="0.9"/>
<line x1="432.38" y1="589.6" x2="432.38" y2="591.6" stroke="#222" stroke-width="0.9"/>
<line x1="437.15" y1="589.6" x2="437.15" y2="591.6" stroke="#222" stroke-width="0.9"/>
<line x1="441.92" y1="589.6" x2="441.92" y2="591.6" stroke="#222" stroke-width="0.9"/>
<line x1="446.69" y1="589.6" x2="446.69" y2="591.6" stroke="#222" stroke-width="0.9"/>
<line x1="451.46" y1="589.6" x2="451.46" y2="591.6" stroke="#222" stroke-width="0.9"/>
<line x1="456.23" y1="589.6" x2="456.23" y2="591.6" stroke="#222" stroke-width="0.9"/>
<line x1="461.00" y1="589.6" x2="461.00" y2="592.6" stroke="#222" stroke-width="0.9"/>
<line x1="465.77" y1="589.6" x2="465.77" y2="591.6" stroke="#222" stroke-width="0.9"/>
<line x1="470.54" y1="589.6" x2="470.54" y2="591.6" stroke="#222" stroke-width="0.9"/>
<line x1="475.31" y1="589.6" x2="475.31" y2="591.6" stroke="#222" stroke-width="0.9"/>
<line x1="480.08" y1="589.6" x2="480.08" y2="591.6" stroke="#222" stroke-width="0.9"/>
<line x1="484.85" y1="589.6" x2="484.85" y2="591.6" stroke="#222" stroke-width="0.9"/>
<line x1="489.62" y1="589.6" x2="489.62" y2="591.6" stroke="#222" stroke-width="0.9"/>
<line x1="494.39" y1="589.6" x2="494.39" y2="591.6" stroke="#222" stroke-width="0.9"/>
<line x1="499.16" y1="589.6" x2="499.16" y2="591.6" stroke="#222" stroke-width="0.9"/>
<line x1="503.93" y1="589.6" x2="503.93" y2="591.6" stroke="#222" stroke-width="0.9"/>
<line x1="508.70" y1="589.6" x2="508.70" y2="592.6" stroke="#222" stroke-width="0.9"/>
<text x="317.9" y="605.9" font-size="10.4" font-weight="bold" text-anchor="middle" fill="#111" stroke="#111" stroke-width="0.22" >0</text>
<text x="365.59999999999997" y="605.9" font-size="10.4" font-weight="bold" text-anchor="middle" fill="#111" stroke="#111" stroke-width="0.22" >1</text>
<text x="413.29999999999995" y="605.9" font-size="10.4" font-weight="bold" text-anchor="middle" fill="#111" stroke="#111" stroke-width="0.22" >2</text>
<text x="461.0" y="605.9" font-size="10.4" font-weight="bold" text-anchor="middle" fill="#111" stroke="#111" stroke-width="0.22" >3</text>
<text x="508.7" y="605.9" font-size="10.4" font-weight="bold" text-anchor="middle" fill="#111" stroke="#111" stroke-width="0.22" >4</text>
<line x1="91.6" y1="546.1" x2="209.2" y2="478.5" stroke="#000" stroke-width="1.15"/>
<line x1="102.5" y1="523" x2="102.5" y2="548" stroke="#000" stroke-width="1.2"/>
<line x1="98.2" y1="523" x2="106.8" y2="523" stroke="#000" stroke-width="1.2"/>
<line x1="98.2" y1="548" x2="106.8" y2="548" stroke="#000" stroke-width="1.2"/>
<line x1="102.5" y1="533" x2="102.5" y2="543.7" stroke="#000" stroke-width="1.2"/>
<line x1="98.8" y1="533" x2="106.2" y2="533" stroke="#000" stroke-width="1.2"/>
<line x1="98.8" y1="543.7" x2="106.2" y2="543.7" stroke="#000" stroke-width="1.2"/>
<line x1="111.9" y1="521" x2="111.9" y2="545" stroke="#000" stroke-width="1.2"/>
<line x1="107.9" y1="521" x2="115.9" y2="521" stroke="#000" stroke-width="1.2"/>
<line x1="107.9" y1="545" x2="115.9" y2="545" stroke="#000" stroke-width="1.2"/>
<line x1="149.6" y1="507.3" x2="149.6" y2="523.7" stroke="#000" stroke-width="1.2"/>
<line x1="145.6" y1="507.3" x2="153.6" y2="507.3" stroke="#000" stroke-width="1.2"/>
<line x1="145.6" y1="523.7" x2="153.6" y2="523.7" stroke="#000" stroke-width="1.2"/>
<line x1="169.4" y1="499" x2="169.4" y2="528.5" stroke="#000" stroke-width="1.2"/>
<line x1="165.70000000000002" y1="499" x2="173.1" y2="499" stroke="#000" stroke-width="1.2"/>
<line x1="165.70000000000002" y1="528.5" x2="173.1" y2="528.5" stroke="#000" stroke-width="1.2"/>
<line x1="176.2" y1="474.5" x2="176.2" y2="508.2" stroke="#000" stroke-width="1.2"/>
<line x1="172.2" y1="474.5" x2="180.2" y2="474.5" stroke="#000" stroke-width="1.2"/>
<line x1="172.2" y1="508.2" x2="180.2" y2="508.2" stroke="#000" stroke-width="1.2"/>
<line x1="209.2" y1="466.7" x2="209.2" y2="478.3" stroke="#000" stroke-width="1.2"/>
<line x1="205.2" y1="466.7" x2="213.2" y2="466.7" stroke="#000" stroke-width="1.2"/>
<line x1="205.2" y1="478.3" x2="213.2" y2="478.3" stroke="#000" stroke-width="1.2"/>
<circle cx="90.75" cy="560.25" r="3.95" fill="#000"/>
<circle cx="102" cy="532.5" r="3.95" fill="#000"/>
<circle cx="103" cy="536" r="3.95" fill="#000"/>
<circle cx="109.4" cy="521" r="3.95" fill="#000"/>
<circle cx="111.9" cy="532.8" r="3.95" fill="#000"/>
<circle cx="149.6" cy="515.4" r="3.95" fill="#000"/>
<circle cx="159.4" cy="515" r="3.95" fill="#000"/>
<circle cx="169.4" cy="513.8" r="3.95" fill="#000"/>
<circle cx="176.2" cy="491" r="3.95" fill="#000"/>
<circle cx="209.2" cy="472.7" r="3.95" fill="#000"/>
<text x="198.8" y="460.3" font-size="8.4" font-weight="bold" text-anchor="start" fill="#111" stroke="#111" stroke-width="0.22" >4E10</text>
<text x="168" y="468.4" font-size="8.4" font-weight="bold" text-anchor="start" fill="#111" stroke="#111" stroke-width="0.22" >2F5</text>
<text x="142" y="501" font-size="8.4" font-weight="bold" text-anchor="start" fill="#111" stroke="#111" stroke-width="0.22" >b12</text>
<text x="176" y="530.9" font-size="8.4" font-weight="bold" text-anchor="start" fill="#111" stroke="#111" stroke-width="0.22" >246-D</text>
<text x="152.7" y="539.5" font-size="8.4" font-weight="bold" text-anchor="start" fill="#111" stroke="#111" stroke-width="0.22" >5F3</text>
<text x="96.2" y="509.2" font-size="8.4" font-weight="bold" text-anchor="start" fill="#111" stroke="#111" stroke-width="0.22" >1570-D</text>
<text x="65.4" y="523.2" font-size="8.4" font-weight="bold" text-anchor="start" fill="#111" stroke="#111" stroke-width="0.22" >VRC03</text>
<text x="76.6" y="535.8" font-size="8.4" font-weight="bold" text-anchor="start" fill="#111" stroke="#111" stroke-width="0.22" >4B3</text>
<text x="110" y="556" font-size="8.4" font-weight="bold" text-anchor="start" fill="#111" stroke="#111" stroke-width="0.22" >VRC01</text>
<text x="79.5" y="573.2" font-size="8.4" font-weight="bold" text-anchor="start" fill="#111" stroke="#111" stroke-width="0.22" >2G12</text>
<line x1="354.6" y1="569.2" x2="472" y2="450" stroke="#000" stroke-width="1.15"/>
<line x1="365.75" y1="518.75" x2="365.75" y2="540.5" stroke="#000" stroke-width="1.2"/>
<line x1="361.75" y1="518.75" x2="369.75" y2="518.75" stroke="#000" stroke-width="1.2"/>
<line x1="361.75" y1="540.5" x2="369.75" y2="540.5" stroke="#000" stroke-width="1.2"/>
<line x1="371.75" y1="535.5" x2="371.75" y2="549.5" stroke="#000" stroke-width="1.2"/>
<line x1="367.75" y1="535.5" x2="375.75" y2="535.5" stroke="#000" stroke-width="1.2"/>
<line x1="367.75" y1="549.5" x2="375.75" y2="549.5" stroke="#000" stroke-width="1.2"/>
<line x1="412" y1="500.2" x2="412" y2="543.75" stroke="#000" stroke-width="1.2"/>
<line x1="408.0" y1="500.2" x2="416.0" y2="500.2" stroke="#000" stroke-width="1.2"/>
<line x1="408.0" y1="543.75" x2="416.0" y2="543.75" stroke="#000" stroke-width="1.2"/>
<line x1="421.7" y1="458.2" x2="421.7" y2="501.6" stroke="#000" stroke-width="1.2"/>
<line x1="417.7" y1="458.2" x2="425.7" y2="458.2" stroke="#000" stroke-width="1.2"/>
<line x1="417.7" y1="501.6" x2="425.7" y2="501.6" stroke="#000" stroke-width="1.2"/>
<line x1="431.75" y1="442.5" x2="431.75" y2="487" stroke="#000" stroke-width="1.2"/>
<line x1="427.75" y1="442.5" x2="435.75" y2="442.5" stroke="#000" stroke-width="1.2"/>
<line x1="427.75" y1="487" x2="435.75" y2="487" stroke="#000" stroke-width="1.2"/>
<line x1="438.2" y1="450.6" x2="438.2" y2="509.8" stroke="#000" stroke-width="1.2"/>
<line x1="434.2" y1="450.6" x2="442.2" y2="450.6" stroke="#000" stroke-width="1.2"/>
<line x1="434.2" y1="509.8" x2="442.2" y2="509.8" stroke="#000" stroke-width="1.2"/>
<circle cx="353.25" cy="587" r="3.95" fill="#000"/>
<circle cx="364.5" cy="568.75" r="3.95" fill="#000"/>
<circle cx="374.5" cy="566.25" r="3.95" fill="#000"/>
<circle cx="365.75" cy="529.5" r="3.95" fill="#000"/>
<circle cx="371.75" cy="542.5" r="3.95" fill="#000"/>
<circle cx="412" cy="522" r="3.95" fill="#000"/>
<circle cx="421.75" cy="480" r="3.95" fill="#000"/>
<circle cx="431.75" cy="464.5" r="3.95" fill="#000"/>
<circle cx="438.25" cy="480" r="3.95" fill="#000"/>
<circle cx="471.75" cy="500.75" r="3.95" fill="#000"/>
<text x="357.5" y="514.2" font-size="8.4" font-weight="bold" text-anchor="start" fill="#111" stroke="#111" stroke-width="0.22" >4B3</text>
<text x="337" y="549.2" font-size="8.4" font-weight="bold" text-anchor="start" fill="#111" stroke="#111" stroke-width="0.22" >1570-D</text>
<text x="330" y="576.0" font-size="8.4" font-weight="bold" text-anchor="start" fill="#111" stroke="#111" stroke-width="0.22" >VRC03</text>
<text x="326.25" y="585.2" font-size="8.4" font-weight="bold" text-anchor="start" fill="#111" stroke="#111" stroke-width="0.22" >2G12</text>
<text x="382.5" y="568" font-size="8.4" font-weight="bold" text-anchor="start" fill="#111" stroke="#111" stroke-width="0.22" >VRC01</text>
<text x="419.5" y="437.5" font-size="8.4" font-weight="bold" text-anchor="start" fill="#111" stroke="#111" stroke-width="0.22" >246-D</text>
<text x="446.25" y="455.5" font-size="8.4" font-weight="bold" text-anchor="start" fill="#111" stroke="#111" stroke-width="0.22" >2F5</text>
<text x="399.5" y="483" font-size="8.4" font-weight="bold" text-anchor="start" fill="#111" stroke="#111" stroke-width="0.22" >5F3</text>
<text x="462.5" y="491.7" font-size="8.4" font-weight="bold" text-anchor="start" fill="#111" stroke="#111" stroke-width="0.22" >4E10</text>
<text x="391.25" y="513" font-size="8.4" font-weight="bold" text-anchor="start" fill="#111" stroke="#111" stroke-width="0.22" >b12</text>
</svg></body></html>
